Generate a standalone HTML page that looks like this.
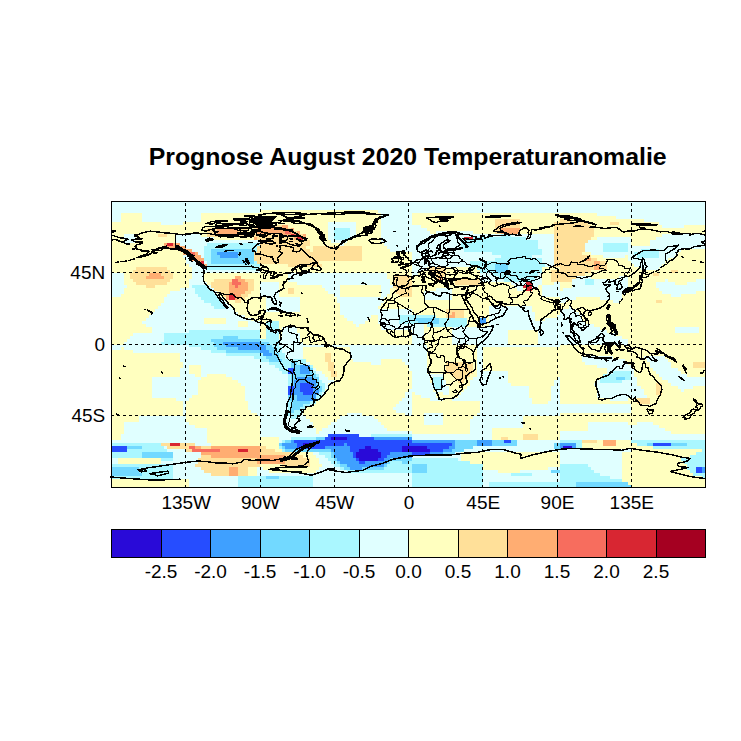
<!DOCTYPE html>
<html lang="de"><head><meta charset="utf-8"><title>Prognose August 2020 Temperaturanomalie</title>
<style>html,body{margin:0;padding:0;background:#fff}svg{display:block}text{font-family:"Liberation Sans",sans-serif;fill:#000}</style></head><body>
<svg width="741" height="741" viewBox="0 0 741 741">
<rect width="741" height="741" fill="#fff"/>
<text x="407.7" y="165" text-anchor="middle" font-weight="bold" font-size="24.75" textLength="518" lengthAdjust="spacingAndGlyphs">Prognose August 2020 Temperaturanomalie</text>
<g shape-rendering="crispEdges">
<rect x="111.5" y="201.5" width="594.0" height="286.0" fill="#FFFFBF"/>
<path fill="#290AD8" d="M331.16 436.85H346.62V439.83H331.16zM303.31 442.81H312.59V445.79H303.31zM365.19 445.79H371.38V448.77H365.19zM402.31 445.79H427.06V448.77H402.31zM563.19 445.79H572.47V448.77H563.19zM359 448.77H377.56V451.75H359zM402.31 448.77H430.16V451.75H402.31zM355.91 451.75H380.66V454.73H355.91zM355.91 454.73H380.66V457.71H355.91zM359 457.71H377.56V460.69H359z"/>
<path fill="#264DFF" d="M287.84 368.33H294.03V371.31H287.84zM287.84 371.31H294.03V374.29H287.84zM300.22 383.23H312.59V386.21H300.22zM287.84 386.21H294.03V389.19H287.84zM300.22 386.21H312.59V389.19H300.22zM287.84 389.19H294.03V392.17H287.84zM300.22 389.19H312.59V392.17H300.22zM287.84 392.17H294.03V395.15H287.84zM303.31 392.17H312.59V395.15H303.31zM328.06 433.88H359V436.85H328.06zM324.97 436.85H331.16V439.83H324.97zM346.62 436.85H374.47V439.83H346.62zM294.03 439.83H411.59V442.81H294.03zM504.41 439.83H510.59V442.81H504.41zM297.12 442.81H303.31V445.79H297.12zM312.59 442.81H343.53V445.79H312.59zM346.62 442.81H451.81V445.79H346.62zM652.91 442.81H671.47V445.79H652.91zM111.5 445.79H126.97V448.77H111.5zM297.12 445.79H324.97V448.77H297.12zM349.72 445.79H365.19V448.77H349.72zM371.38 445.79H402.31V448.77H371.38zM427.06 445.79H448.72V448.77H427.06zM111.5 448.77H126.97V451.75H111.5zM349.72 448.77H359V451.75H349.72zM377.56 448.77H402.31V451.75H377.56zM430.16 448.77H442.53V451.75H430.16zM352.81 451.75H355.91V454.73H352.81zM380.66 451.75H389.94V454.73H380.66zM411.59 451.75H430.16V454.73H411.59zM352.81 454.73H355.91V457.71H352.81zM380.66 454.73H386.84V457.71H380.66zM355.91 457.71H359V460.69H355.91zM377.56 457.71H383.75V460.69H377.56zM359 460.69H365.19V463.67H359zM696.22 466.65H702.41V469.62H696.22zM696.22 469.62H702.41V472.6H696.22z"/>
<path fill="#3FA0FF" d="M216.69 252.15H238.34V255.12H216.69zM219.78 255.12H238.34V258.1H219.78zM479.66 317.69H485.84V320.67H479.66zM479.66 320.67H485.84V323.65H479.66zM222.88 341.52H260V344.5H222.88zM225.97 344.5H266.19V347.48H225.97zM238.34 347.48H266.19V350.46H238.34zM260 350.46H269.28V353.44H260zM263.09 353.44H272.38V356.42H263.09zM300.22 365.35H309.5V368.33H300.22zM300.22 368.33H309.5V371.31H300.22zM300.22 371.31H309.5V374.29H300.22zM297.12 377.27H312.59V380.25H297.12zM294.03 380.25H315.69V383.23H294.03zM294.03 383.23H300.22V386.21H294.03zM312.59 383.23H315.69V386.21H312.59zM294.03 386.21H300.22V389.19H294.03zM312.59 386.21H315.69V389.19H312.59zM294.03 389.19H300.22V392.17H294.03zM312.59 389.19H318.78V392.17H312.59zM294.03 392.17H303.31V395.15H294.03zM312.59 392.17H318.78V395.15H312.59zM297.12 395.15H315.69V398.12H297.12zM297.12 398.12H315.69V401.1H297.12zM374.47 436.85H411.59V439.83H374.47zM290.94 439.83H294.03V442.81H290.94zM411.59 439.83H454.91V442.81H411.59zM476.56 439.83H492.03V442.81H476.56zM281.66 442.81H297.12V445.79H281.66zM343.53 442.81H346.62V445.79H343.53zM451.81 442.81H454.91V445.79H451.81zM476.56 442.81H492.03V445.79H476.56zM560.09 442.81H575.56V445.79H560.09zM284.75 445.79H297.12V448.77H284.75zM324.97 445.79H349.72V448.77H324.97zM448.72 445.79H454.91V448.77H448.72zM560.09 445.79H563.19V448.77H560.09zM572.47 445.79H575.56V448.77H572.47zM331.16 448.77H349.72V451.75H331.16zM442.53 448.77H451.81V451.75H442.53zM334.25 451.75H352.81V454.73H334.25zM389.94 451.75H411.59V454.73H389.94zM430.16 451.75H442.53V454.73H430.16zM334.25 454.73H352.81V457.71H334.25zM386.84 454.73H411.59V457.71H386.84zM337.34 457.71H355.91V460.69H337.34zM383.75 457.71H389.94V460.69H383.75zM340.44 460.69H359V463.67H340.44zM365.19 460.69H386.84V463.67H365.19zM346.62 463.67H383.75V466.65H346.62zM349.72 466.65H362.09V469.62H349.72zM702.41 466.65H705.5V469.62H702.41zM702.41 469.62H705.5V472.6H702.41z"/>
<path fill="#72D9FF" d="M210.5 249.17H253.81V252.15H210.5zM210.5 252.15H216.69V255.12H210.5zM238.34 252.15H253.81V255.12H238.34zM210.5 255.12H219.78V258.1H210.5zM238.34 255.12H253.81V258.1H238.34zM210.5 258.1H253.81V261.08H210.5zM210.5 261.08H253.81V264.06H210.5zM495.12 264.06H507.5V267.04H495.12zM495.12 267.04H507.5V270.02H495.12zM495.12 270.02H507.5V273H495.12zM414.69 317.69H439.44V320.67H414.69zM417.78 320.67H439.44V323.65H417.78zM222.88 335.56H238.34V338.54H222.88zM210.5 338.54H260V341.52H210.5zM213.59 341.52H222.88V344.5H213.59zM260 341.52H269.28V344.5H260zM213.59 344.5H225.97V347.48H213.59zM266.19 344.5H272.38V347.48H266.19zM216.69 347.48H238.34V350.46H216.69zM266.19 347.48H275.47V350.46H266.19zM225.97 350.46H260V353.44H225.97zM269.28 350.46H275.47V353.44H269.28zM272.38 353.44H278.56V356.42H272.38zM266.19 356.42H278.56V359.4H266.19zM269.28 359.4H281.66V362.38H269.28zM290.94 362.38H297.12V365.35H290.94zM290.94 365.35H300.22V368.33H290.94zM294.03 368.33H300.22V371.31H294.03zM309.5 368.33H312.59V371.31H309.5zM294.03 371.31H300.22V374.29H294.03zM309.5 371.31H312.59V374.29H309.5zM290.94 374.29H315.69V377.27H290.94zM290.94 377.27H297.12V380.25H290.94zM312.59 377.27H318.78V380.25H312.59zM615.78 377.27H625.06V380.25H615.78zM290.94 380.25H294.03V383.23H290.94zM315.69 380.25H318.78V383.23H315.69zM290.94 383.23H294.03V386.21H290.94zM315.69 383.23H318.78V386.21H315.69zM315.69 386.21H321.88V389.19H315.69zM318.78 389.19H321.88V392.17H318.78zM287.84 395.15H297.12V398.12H287.84zM287.84 398.12H297.12V401.1H287.84zM290.94 401.1H309.5V404.08H290.94zM290.94 404.08H303.31V407.06H290.94zM290.94 407.06H300.22V410.04H290.94zM290.94 410.04H294.03V413.02H290.94zM315.69 436.85H324.97V439.83H315.69zM284.75 439.83H290.94V442.81H284.75zM454.91 439.83H476.56V442.81H454.91zM492.03 439.83H504.41V442.81H492.03zM510.59 439.83H516.78V442.81H510.59zM278.56 442.81H281.66V445.79H278.56zM454.91 442.81H476.56V445.79H454.91zM492.03 442.81H516.78V445.79H492.03zM553.91 442.81H560.09V445.79H553.91zM646.72 442.81H652.91V445.79H646.72zM671.47 442.81H686.94V445.79H671.47zM126.97 445.79H142.44V448.77H126.97zM281.66 445.79H284.75V448.77H281.66zM454.91 445.79H473.47V448.77H454.91zM553.91 445.79H560.09V448.77H553.91zM284.75 448.77H331.16V451.75H284.75zM451.81 448.77H464.19V451.75H451.81zM142.44 451.75H173.38V454.73H142.44zM331.16 451.75H334.25V454.73H331.16zM442.53 451.75H454.91V454.73H442.53zM142.44 454.73H173.38V457.71H142.44zM331.16 454.73H334.25V457.71H331.16zM334.25 457.71H337.34V460.69H334.25zM389.94 457.71H411.59V460.69H389.94zM337.34 460.69H340.44V463.67H337.34zM386.84 460.69H389.94V463.67H386.84zM402.31 460.69H408.5V463.67H402.31zM340.44 463.67H346.62V466.65H340.44zM383.75 463.67H386.84V466.65H383.75zM411.59 463.67H427.06V466.65H411.59zM111.5 466.65H139.34V469.62H111.5zM343.53 466.65H349.72V469.62H343.53zM362.09 466.65H383.75V469.62H362.09zM411.59 466.65H427.06V469.62H411.59zM111.5 469.62H139.34V472.6H111.5zM411.59 469.62H427.06V472.6H411.59zM550.81 469.62H560.09V472.6H550.81zM111.5 472.6H142.44V475.58H111.5zM266.19 475.58H278.56V478.56H266.19zM575.56 481.54H628.16V484.52H575.56zM575.56 484.52H631.25V487.5H575.56z"/>
<path fill="#AAF7FF" d="M334.25 228.31H349.72V231.29H334.25zM334.25 231.29H349.72V234.27H334.25zM334.25 234.27H349.72V237.25H334.25zM501.31 234.27H510.59V237.25H501.31zM334.25 237.25H349.72V240.23H334.25zM473.47 237.25H526.06V240.23H473.47zM461.09 240.23H538.44V243.21H461.09zM207.41 243.21H260V246.19H207.41zM461.09 243.21H538.44V246.19H461.09zM603.41 243.21H628.16V246.19H603.41zM204.31 246.19H256.91V249.17H204.31zM461.09 246.19H538.44V249.17H461.09zM603.41 246.19H628.16V249.17H603.41zM204.31 249.17H210.5V252.15H204.31zM253.81 249.17H256.91V252.15H253.81zM464.19 249.17H541.53V252.15H464.19zM603.41 249.17H628.16V252.15H603.41zM640.53 249.17H659.09V252.15H640.53zM204.31 252.15H210.5V255.12H204.31zM492.03 252.15H541.53V255.12H492.03zM634.34 252.15H659.09V255.12H634.34zM204.31 255.12H210.5V258.1H204.31zM501.31 255.12H532.25V258.1H501.31zM637.44 255.12H659.09V258.1H637.44zM204.31 258.1H210.5V261.08H204.31zM495.12 258.1H541.53V261.08H495.12zM207.41 261.08H210.5V264.06H207.41zM253.81 261.08H256.91V264.06H253.81zM470.38 261.08H541.53V264.06H470.38zM207.41 264.06H260V267.04H207.41zM470.38 264.06H495.12V267.04H470.38zM507.5 264.06H544.62V267.04H507.5zM207.41 267.04H260V270.02H207.41zM476.56 267.04H495.12V270.02H476.56zM507.5 267.04H541.53V270.02H507.5zM479.66 270.02H495.12V273H479.66zM507.5 270.02H541.53V273H507.5zM492.03 273H538.44V275.98H492.03zM498.22 275.98H535.34V278.96H498.22zM504.41 278.96H535.34V281.94H504.41zM584.84 278.96H594.12V281.94H584.84zM584.84 281.94H594.12V284.92H584.84zM191.94 284.92H207.41V287.9H191.94zM195.03 287.9H210.5V290.88H195.03zM195.03 290.88H213.59V293.85H195.03zM198.12 293.85H216.69V296.83H198.12zM201.22 296.83H219.78V299.81H201.22zM204.31 299.81H222.88V302.79H204.31zM210.5 302.79H225.97V305.77H210.5zM213.59 305.77H225.97V308.75H213.59zM399.22 314.71H436.34V317.69H399.22zM399.22 317.69H414.69V320.67H399.22zM439.44 317.69H467.28V320.67H439.44zM266.19 320.67H278.56V323.65H266.19zM399.22 320.67H417.78V323.65H399.22zM439.44 320.67H467.28V323.65H439.44zM266.19 323.65H278.56V326.62H266.19zM427.06 323.65H467.28V326.62H427.06zM266.19 326.62H278.56V329.6H266.19zM188.84 329.6H260V332.58H188.84zM266.19 329.6H278.56V332.58H266.19zM164.09 332.58H260V335.56H164.09zM266.19 332.58H278.56V335.56H266.19zM164.09 335.56H222.88V338.54H164.09zM238.34 335.56H260V338.54H238.34zM266.19 335.56H278.56V338.54H266.19zM164.09 338.54H210.5V341.52H164.09zM260 338.54H278.56V341.52H260zM161 341.52H213.59V344.5H161zM269.28 341.52H278.56V344.5H269.28zM188.84 344.5H213.59V347.48H188.84zM272.38 344.5H278.56V347.48H272.38zM201.22 347.48H216.69V350.46H201.22zM275.47 347.48H281.66V350.46H275.47zM210.5 350.46H225.97V353.44H210.5zM275.47 350.46H281.66V353.44H275.47zM225.97 353.44H263.09V356.42H225.97zM278.56 353.44H284.75V356.42H278.56zM253.81 356.42H266.19V359.4H253.81zM278.56 356.42H284.75V359.4H278.56zM260 359.4H269.28V362.38H260zM281.66 359.4H306.41V362.38H281.66zM269.28 362.38H290.94V365.35H269.28zM297.12 362.38H306.41V365.35H297.12zM275.47 365.35H290.94V368.33H275.47zM309.5 365.35H312.59V368.33H309.5zM278.56 368.33H287.84V371.31H278.56zM281.66 371.31H287.84V374.29H281.66zM312.59 371.31H315.69V374.29H312.59zM612.69 371.31H631.25V374.29H612.69zM287.84 374.29H290.94V377.27H287.84zM315.69 374.29H318.78V377.27H315.69zM603.41 374.29H631.25V377.27H603.41zM287.84 377.27H290.94V380.25H287.84zM433.25 377.27H442.53V380.25H433.25zM600.31 377.27H615.78V380.25H600.31zM625.06 377.27H631.25V380.25H625.06zM287.84 380.25H290.94V383.23H287.84zM318.78 380.25H321.88V383.23H318.78zM433.25 380.25H442.53V383.23H433.25zM600.31 380.25H621.97V383.23H600.31zM287.84 383.23H290.94V386.21H287.84zM318.78 383.23H324.97V386.21H318.78zM433.25 383.23H442.53V386.21H433.25zM321.88 386.21H324.97V389.19H321.88zM433.25 386.21H442.53V389.19H433.25zM321.88 389.19H324.97V392.17H321.88zM318.78 392.17H321.88V395.15H318.78zM315.69 395.15H321.88V398.12H315.69zM315.69 398.12H318.78V401.1H315.69zM287.84 401.1H290.94V404.08H287.84zM309.5 401.1H315.69V404.08H309.5zM287.84 404.08H290.94V407.06H287.84zM303.31 404.08H309.5V407.06H303.31zM287.84 407.06H290.94V410.04H287.84zM300.22 407.06H306.41V410.04H300.22zM287.84 410.04H290.94V413.02H287.84zM294.03 410.04H303.31V413.02H294.03zM287.84 413.02H300.22V416H287.84zM290.94 416H297.12V418.98H290.94zM371.38 433.88H411.59V436.85H371.38zM290.94 436.85H315.69V439.83H290.94zM281.66 439.83H284.75V442.81H281.66zM560.09 439.83H581.75V442.81H560.09zM631.25 439.83H705.5V442.81H631.25zM111.5 442.81H161V445.79H111.5zM575.56 442.81H581.75V445.79H575.56zM637.44 442.81H646.72V445.79H637.44zM686.94 442.81H705.5V445.79H686.94zM142.44 445.79H164.09V448.77H142.44zM278.56 445.79H281.66V448.77H278.56zM575.56 445.79H581.75V448.77H575.56zM652.91 445.79H705.5V448.77H652.91zM126.97 448.77H167.19V451.75H126.97zM281.66 448.77H284.75V451.75H281.66zM702.41 448.77H705.5V451.75H702.41zM111.5 451.75H142.44V454.73H111.5zM318.78 451.75H331.16V454.73H318.78zM696.22 451.75H705.5V454.73H696.22zM111.5 454.73H142.44V457.71H111.5zM324.97 454.73H331.16V457.71H324.97zM690.03 454.73H705.5V457.71H690.03zM161 457.71H173.38V460.69H161zM328.06 457.71H334.25V460.69H328.06zM411.59 457.71H458V460.69H411.59zM680.75 457.71H705.5V460.69H680.75zM331.16 460.69H337.34V463.67H331.16zM389.94 460.69H402.31V463.67H389.94zM408.5 460.69H470.38V463.67H408.5zM683.84 460.69H705.5V463.67H683.84zM111.5 463.67H173.38V466.65H111.5zM334.25 463.67H340.44V466.65H334.25zM386.84 463.67H411.59V466.65H386.84zM427.06 463.67H482.75V466.65H427.06zM560.09 463.67H587.94V466.65H560.09zM686.94 463.67H705.5V466.65H686.94zM139.34 466.65H173.38V469.62H139.34zM340.44 466.65H343.53V469.62H340.44zM383.75 466.65H411.59V469.62H383.75zM427.06 466.65H482.75V469.62H427.06zM560.09 466.65H591.03V469.62H560.09zM686.94 466.65H696.22V469.62H686.94zM139.34 469.62H173.38V472.6H139.34zM346.62 469.62H411.59V472.6H346.62zM427.06 469.62H482.75V472.6H427.06zM560.09 469.62H594.12V472.6H560.09zM690.03 469.62H696.22V472.6H690.03zM142.44 472.6H173.38V475.58H142.44zM411.59 472.6H482.75V475.58H411.59zM510.59 472.6H532.25V475.58H510.59zM560.09 472.6H600.31V475.58H560.09zM693.12 472.6H705.5V475.58H693.12zM111.5 475.58H173.38V478.56H111.5zM238.34 475.58H266.19V478.56H238.34zM278.56 475.58H312.59V478.56H278.56zM411.59 475.58H482.75V478.56H411.59zM560.09 475.58H609.59V478.56H560.09zM702.41 475.58H705.5V478.56H702.41zM238.34 478.56H312.59V481.54H238.34zM411.59 478.56H482.75V481.54H411.59zM560.09 478.56H621.97V481.54H560.09zM238.34 481.54H312.59V484.52H238.34zM411.59 481.54H482.75V484.52H411.59zM488.94 481.54H575.56V484.52H488.94zM238.34 484.52H312.59V487.5H238.34zM411.59 484.52H482.75V487.5H411.59zM488.94 484.52H575.56V487.5H488.94z"/>
<path fill="#E0FFFF" d="M111.5 201.5H705.5V204.48H111.5zM111.5 204.48H705.5V207.46H111.5zM111.5 207.46H705.5V210.44H111.5zM111.5 210.44H260V213.42H111.5zM377.56 210.44H705.5V213.42H377.56zM111.5 213.42H120.78V216.4H111.5zM142.44 213.42H201.22V216.4H142.44zM380.66 213.42H411.59V216.4H380.66zM597.22 213.42H705.5V216.4H597.22zM111.5 216.4H120.78V219.38H111.5zM142.44 216.4H201.22V219.38H142.44zM380.66 216.4H411.59V219.38H380.66zM615.78 216.4H705.5V219.38H615.78zM111.5 219.38H120.78V222.35H111.5zM142.44 219.38H201.22V222.35H142.44zM380.66 219.38H411.59V222.35H380.66zM643.62 219.38H705.5V222.35H643.62zM161 222.35H182.66V225.33H161zM328.06 222.35H355.91V225.33H328.06zM380.66 222.35H411.59V225.33H380.66zM659.09 222.35H705.5V225.33H659.09zM328.06 225.33H355.91V228.31H328.06zM380.66 225.33H420.88V228.31H380.66zM662.19 225.33H683.84V228.31H662.19zM328.06 228.31H334.25V231.29H328.06zM349.72 228.31H355.91V231.29H349.72zM380.66 228.31H427.06V231.29H380.66zM328.06 231.29H334.25V234.27H328.06zM349.72 231.29H355.91V234.27H349.72zM380.66 231.29H430.16V234.27H380.66zM436.34 231.29H473.47V234.27H436.34zM123.88 234.27H136.25V237.25H123.88zM176.47 234.27H201.22V237.25H176.47zM328.06 234.27H334.25V237.25H328.06zM349.72 234.27H355.91V237.25H349.72zM380.66 234.27H501.31V237.25H380.66zM510.59 234.27H553.91V237.25H510.59zM662.19 234.27H705.5V237.25H662.19zM123.88 237.25H136.25V240.23H123.88zM176.47 237.25H213.59V240.23H176.47zM328.06 237.25H334.25V240.23H328.06zM380.66 237.25H464.19V240.23H380.66zM526.06 237.25H553.91V240.23H526.06zM597.22 237.25H631.25V240.23H597.22zM656 237.25H705.5V240.23H656zM123.88 240.23H136.25V243.21H123.88zM176.47 240.23H260V243.21H176.47zM331.16 240.23H346.62V243.21H331.16zM380.66 240.23H461.09V243.21H380.66zM538.44 240.23H553.91V243.21H538.44zM587.94 240.23H631.25V243.21H587.94zM649.81 240.23H705.5V243.21H649.81zM179.56 243.21H207.41V246.19H179.56zM340.44 243.21H343.53V246.19H340.44zM383.75 243.21H461.09V246.19H383.75zM538.44 243.21H553.91V246.19H538.44zM584.84 243.21H603.41V246.19H584.84zM628.16 243.21H631.25V246.19H628.16zM649.81 243.21H705.5V246.19H649.81zM185.75 246.19H204.31V249.17H185.75zM386.84 246.19H461.09V249.17H386.84zM538.44 246.19H553.91V249.17H538.44zM584.84 246.19H603.41V249.17H584.84zM628.16 246.19H705.5V249.17H628.16zM191.94 249.17H204.31V252.15H191.94zM389.94 249.17H464.19V252.15H389.94zM541.53 249.17H553.91V252.15H541.53zM584.84 249.17H603.41V252.15H584.84zM628.16 249.17H640.53V252.15H628.16zM659.09 249.17H680.75V252.15H659.09zM198.12 252.15H204.31V255.12H198.12zM411.59 252.15H492.03V255.12H411.59zM541.53 252.15H553.91V255.12H541.53zM591.03 252.15H634.34V255.12H591.03zM659.09 252.15H677.66V255.12H659.09zM182.66 255.12H188.84V258.1H182.66zM201.22 255.12H204.31V258.1H201.22zM411.59 255.12H501.31V258.1H411.59zM532.25 255.12H553.91V258.1H532.25zM603.41 255.12H625.06V258.1H603.41zM628.16 255.12H637.44V258.1H628.16zM659.09 255.12H674.56V258.1H659.09zM185.75 258.1H191.94V261.08H185.75zM411.59 258.1H495.12V261.08H411.59zM541.53 258.1H553.91V261.08H541.53zM628.16 258.1H668.38V261.08H628.16zM185.75 261.08H198.12V264.06H185.75zM204.31 261.08H207.41V264.06H204.31zM411.59 261.08H470.38V264.06H411.59zM541.53 261.08H553.91V264.06H541.53zM631.25 261.08H665.28V264.06H631.25zM188.84 264.06H201.22V267.04H188.84zM411.59 264.06H470.38V267.04H411.59zM544.62 264.06H553.91V267.04H544.62zM634.34 264.06H662.19V267.04H634.34zM191.94 267.04H207.41V270.02H191.94zM411.59 267.04H427.06V270.02H411.59zM640.53 267.04H659.09V270.02H640.53zM191.94 270.02H260V273H191.94zM411.59 270.02H420.88V273H411.59zM111.5 273H123.88V275.98H111.5zM191.94 273H204.31V275.98H191.94zM287.84 273H386.84V275.98H287.84zM411.59 273H417.78V275.98H411.59zM479.66 273H492.03V275.98H479.66zM538.44 273H541.53V275.98H538.44zM111.5 275.98H123.88V278.96H111.5zM191.94 275.98H204.31V278.96H191.94zM287.84 275.98H386.84V278.96H287.84zM479.66 275.98H498.22V278.96H479.66zM535.34 275.98H541.53V278.96H535.34zM575.56 275.98H591.03V278.96H575.56zM618.88 275.98H628.16V278.96H618.88zM111.5 278.96H123.88V281.94H111.5zM188.84 278.96H204.31V281.94H188.84zM287.84 278.96H389.94V281.94H287.84zM479.66 278.96H504.41V281.94H479.66zM535.34 278.96H541.53V281.94H535.34zM572.47 278.96H584.84V281.94H572.47zM594.12 278.96H628.16V281.94H594.12zM665.28 278.96H668.38V281.94H665.28zM696.22 278.96H705.5V281.94H696.22zM111.5 281.94H123.88V284.92H111.5zM188.84 281.94H207.41V284.92H188.84zM260 281.94H278.56V284.92H260zM297.12 281.94H389.94V284.92H297.12zM510.59 281.94H526.06V284.92H510.59zM532.25 281.94H541.53V284.92H532.25zM553.91 281.94H560.09V284.92H553.91zM572.47 281.94H584.84V284.92H572.47zM594.12 281.94H628.16V284.92H594.12zM656 281.94H674.56V284.92H656zM686.94 281.94H705.5V284.92H686.94zM111.5 284.92H126.97V287.9H111.5zM188.84 284.92H191.94V287.9H188.84zM207.41 284.92H210.5V287.9H207.41zM260 284.92H278.56V287.9H260zM321.88 284.92H340.44V287.9H321.88zM380.66 284.92H393.03V287.9H380.66zM513.69 284.92H522.97V287.9H513.69zM532.25 284.92H538.44V287.9H532.25zM541.53 284.92H560.09V287.9H541.53zM572.47 284.92H628.16V287.9H572.47zM656 284.92H705.5V287.9H656zM111.5 287.9H123.88V290.88H111.5zM179.56 287.9H195.03V290.88H179.56zM210.5 287.9H213.59V290.88H210.5zM260 287.9H278.56V290.88H260zM324.97 287.9H340.44V290.88H324.97zM380.66 287.9H389.94V290.88H380.66zM436.34 287.9H451.81V290.88H436.34zM516.78 287.9H522.97V290.88H516.78zM541.53 287.9H560.09V290.88H541.53zM563.19 287.9H625.06V290.88H563.19zM659.09 287.9H705.5V290.88H659.09zM111.5 290.88H123.88V293.85H111.5zM170.28 290.88H195.03V293.85H170.28zM213.59 290.88H216.69V293.85H213.59zM260 290.88H278.56V293.85H260zM328.06 290.88H340.44V293.85H328.06zM380.66 290.88H389.94V293.85H380.66zM423.97 290.88H451.81V293.85H423.97zM541.53 290.88H625.06V293.85H541.53zM662.19 290.88H696.22V293.85H662.19zM111.5 293.85H120.78V296.83H111.5zM167.19 293.85H198.12V296.83H167.19zM216.69 293.85H219.78V296.83H216.69zM260 293.85H278.56V296.83H260zM334.25 293.85H340.44V296.83H334.25zM380.66 293.85H386.84V296.83H380.66zM423.97 293.85H451.81V296.83H423.97zM541.53 293.85H621.97V296.83H541.53zM671.47 293.85H680.75V296.83H671.47zM164.09 296.83H201.22V299.81H164.09zM219.78 296.83H222.88V299.81H219.78zM266.19 296.83H300.22V299.81H266.19zM337.34 296.83H383.75V299.81H337.34zM423.97 296.83H451.81V299.81H423.97zM560.09 296.83H575.56V299.81H560.09zM600.31 296.83H621.97V299.81H600.31zM164.09 299.81H204.31V302.79H164.09zM222.88 299.81H225.97V302.79H222.88zM266.19 299.81H300.22V302.79H266.19zM337.34 299.81H383.75V302.79H337.34zM560.09 299.81H566.28V302.79H560.09zM612.69 299.81H618.88V302.79H612.69zM161 302.79H210.5V305.77H161zM225.97 302.79H229.06V305.77H225.97zM266.19 302.79H300.22V305.77H266.19zM340.44 302.79H380.66V305.77H340.44zM157.91 305.77H213.59V308.75H157.91zM225.97 305.77H232.16V308.75H225.97zM266.19 305.77H300.22V308.75H266.19zM340.44 305.77H377.56V308.75H340.44zM488.94 305.77H532.25V308.75H488.94zM569.38 305.77H572.47V308.75H569.38zM154.81 308.75H235.25V311.73H154.81zM266.19 308.75H300.22V311.73H266.19zM340.44 308.75H411.59V311.73H340.44zM488.94 308.75H532.25V311.73H488.94zM560.09 308.75H575.56V311.73H560.09zM151.72 311.73H238.34V314.71H151.72zM340.44 311.73H411.59V314.71H340.44zM488.94 311.73H535.34V314.71H488.94zM560.09 311.73H578.66V314.71H560.09zM148.62 314.71H244.53V317.69H148.62zM343.53 314.71H371.38V317.69H343.53zM377.56 314.71H399.22V317.69H377.56zM488.94 314.71H535.34V317.69H488.94zM557 314.71H581.75V317.69H557zM145.53 317.69H204.31V320.67H145.53zM225.97 317.69H250.72V320.67H225.97zM346.62 317.69H368.28V320.67H346.62zM377.56 317.69H399.22V320.67H377.56zM488.94 317.69H535.34V320.67H488.94zM544.62 317.69H581.75V320.67H544.62zM142.44 320.67H204.31V323.65H142.44zM225.97 320.67H238.34V323.65H225.97zM247.62 320.67H260V323.65H247.62zM352.81 320.67H365.19V323.65H352.81zM377.56 320.67H399.22V323.65H377.56zM488.94 320.67H584.84V323.65H488.94zM145.53 323.65H238.34V326.62H145.53zM247.62 323.65H260V326.62H247.62zM355.91 323.65H359V326.62H355.91zM380.66 323.65H423.97V326.62H380.66zM488.94 323.65H594.12V326.62H488.94zM151.72 326.62H260V329.6H151.72zM281.66 326.62H297.12V329.6H281.66zM380.66 326.62H423.97V329.6H380.66zM451.81 326.62H600.31V329.6H451.81zM674.56 326.62H699.31V329.6H674.56zM151.72 329.6H188.84V332.58H151.72zM281.66 329.6H297.12V332.58H281.66zM411.59 329.6H423.97V332.58H411.59zM451.81 329.6H507.5V332.58H451.81zM538.44 329.6H606.5V332.58H538.44zM674.56 329.6H699.31V332.58H674.56zM133.16 332.58H164.09V335.56H133.16zM281.66 332.58H300.22V335.56H281.66zM411.59 332.58H423.97V335.56H411.59zM451.81 332.58H507.5V335.56H451.81zM538.44 332.58H615.78V335.56H538.44zM130.06 335.56H164.09V338.54H130.06zM281.66 335.56H300.22V338.54H281.66zM411.59 335.56H423.97V338.54H411.59zM451.81 335.56H507.5V338.54H451.81zM538.44 335.56H621.97V338.54H538.44zM126.97 338.54H164.09V341.52H126.97zM278.56 338.54H300.22V341.52H278.56zM411.59 338.54H423.97V341.52H411.59zM451.81 338.54H507.5V341.52H451.81zM538.44 338.54H628.16V341.52H538.44zM123.88 341.52H161V344.5H123.88zM278.56 341.52H303.31V344.5H278.56zM411.59 341.52H423.97V344.5H411.59zM451.81 341.52H507.5V344.5H451.81zM538.44 341.52H628.16V344.5H538.44zM111.5 344.5H188.84V347.48H111.5zM278.56 344.5H427.06V347.48H278.56zM476.56 344.5H560.09V347.48H476.56zM111.5 347.48H120.78V350.46H111.5zM123.88 347.48H201.22V350.46H123.88zM281.66 347.48H303.31V350.46H281.66zM349.72 347.48H427.06V350.46H349.72zM476.56 347.48H482.75V350.46H476.56zM133.16 350.46H210.5V353.44H133.16zM281.66 350.46H303.31V353.44H281.66zM349.72 350.46H427.06V353.44H349.72zM476.56 350.46H482.75V353.44H476.56zM179.56 353.44H225.97V356.42H179.56zM284.75 353.44H303.31V356.42H284.75zM349.72 353.44H427.06V356.42H349.72zM476.56 353.44H482.75V356.42H476.56zM179.56 356.42H253.81V359.4H179.56zM284.75 356.42H303.31V359.4H284.75zM349.72 356.42H427.06V359.4H349.72zM476.56 356.42H482.75V359.4H476.56zM581.75 356.42H612.69V359.4H581.75zM643.62 356.42H665.28V359.4H643.62zM179.56 359.4H260V362.38H179.56zM352.81 359.4H380.66V362.38H352.81zM402.31 359.4H427.06V362.38H402.31zM476.56 359.4H482.75V362.38H476.56zM581.75 359.4H625.06V362.38H581.75zM646.72 359.4H668.38V362.38H646.72zM182.66 362.38H269.28V365.35H182.66zM306.41 362.38H309.5V365.35H306.41zM371.38 362.38H380.66V365.35H371.38zM405.41 362.38H427.06V365.35H405.41zM476.56 362.38H482.75V365.35H476.56zM584.84 362.38H628.16V365.35H584.84zM649.81 362.38H671.47V365.35H649.81zM182.66 365.35H188.84V368.33H182.66zM201.22 365.35H275.47V368.33H201.22zM408.5 365.35H427.06V368.33H408.5zM476.56 365.35H482.75V368.33H476.56zM597.22 365.35H631.25V368.33H597.22zM649.81 365.35H671.47V368.33H649.81zM179.56 368.33H188.84V371.31H179.56zM201.22 368.33H278.56V371.31H201.22zM312.59 368.33H315.69V371.31H312.59zM408.5 368.33H427.06V371.31H408.5zM476.56 368.33H482.75V371.31H476.56zM606.5 368.33H634.34V371.31H606.5zM652.91 368.33H677.66V371.31H652.91zM179.56 371.31H188.84V374.29H179.56zM201.22 371.31H281.66V374.29H201.22zM315.69 371.31H321.88V374.29H315.69zM411.59 371.31H427.06V374.29H411.59zM476.56 371.31H507.5V374.29H476.56zM606.5 371.31H612.69V374.29H606.5zM631.25 371.31H634.34V374.29H631.25zM656 371.31H680.75V374.29H656zM179.56 374.29H195.03V377.27H179.56zM201.22 374.29H207.41V377.27H201.22zM225.97 374.29H287.84V377.27H225.97zM318.78 374.29H324.97V377.27H318.78zM411.59 374.29H442.53V377.27H411.59zM476.56 374.29H507.5V377.27H476.56zM631.25 374.29H634.34V377.27H631.25zM659.09 374.29H686.94V377.27H659.09zM151.72 377.27H201.22V380.25H151.72zM232.16 377.27H287.84V380.25H232.16zM318.78 377.27H328.06V380.25H318.78zM411.59 377.27H430.16V380.25H411.59zM473.47 377.27H507.5V380.25H473.47zM557 377.27H560.09V380.25H557zM631.25 377.27H637.44V380.25H631.25zM662.19 377.27H705.5V380.25H662.19zM151.72 380.25H198.12V383.23H151.72zM238.34 380.25H287.84V383.23H238.34zM321.88 380.25H334.25V383.23H321.88zM411.59 380.25H430.16V383.23H411.59zM442.53 380.25H445.62V383.23H442.53zM470.38 380.25H507.5V383.23H470.38zM553.91 380.25H560.09V383.23H553.91zM597.22 380.25H600.31V383.23H597.22zM621.97 380.25H637.44V383.23H621.97zM668.38 380.25H705.5V383.23H668.38zM151.72 383.23H198.12V386.21H151.72zM241.44 383.23H287.84V386.21H241.44zM324.97 383.23H328.06V386.21H324.97zM411.59 383.23H433.25V386.21H411.59zM442.53 383.23H445.62V386.21H442.53zM470.38 383.23H510.59V386.21H470.38zM553.91 383.23H560.09V386.21H553.91zM594.12 383.23H637.44V386.21H594.12zM671.47 383.23H705.5V386.21H671.47zM151.72 386.21H198.12V389.19H151.72zM244.53 386.21H287.84V389.19H244.53zM324.97 386.21H328.06V389.19H324.97zM411.59 386.21H433.25V389.19H411.59zM442.53 386.21H448.72V389.19H442.53zM467.28 386.21H529.16V389.19H467.28zM550.81 386.21H560.09V389.19H550.81zM597.22 386.21H640.53V389.19H597.22zM677.66 386.21H693.12V389.19H677.66zM151.72 389.19H198.12V392.17H151.72zM244.53 389.19H287.84V392.17H244.53zM408.5 389.19H433.25V392.17H408.5zM436.34 389.19H448.72V392.17H436.34zM464.19 389.19H529.16V392.17H464.19zM550.81 389.19H560.09V392.17H550.81zM597.22 389.19H643.62V392.17H597.22zM680.75 389.19H683.84V392.17H680.75zM151.72 392.17H198.12V395.15H151.72zM244.53 392.17H287.84V395.15H244.53zM321.88 392.17H324.97V395.15H321.88zM405.41 392.17H411.59V395.15H405.41zM414.69 392.17H436.34V395.15H414.69zM442.53 392.17H448.72V395.15H442.53zM461.09 392.17H529.16V395.15H461.09zM550.81 392.17H560.09V395.15H550.81zM597.22 392.17H643.62V395.15H597.22zM151.72 395.15H191.94V398.12H151.72zM244.53 395.15H287.84V398.12H244.53zM405.41 395.15H411.59V398.12H405.41zM420.88 395.15H436.34V398.12H420.88zM458 395.15H529.16V398.12H458zM550.81 395.15H560.09V398.12H550.81zM597.22 395.15H646.72V398.12H597.22zM176.47 398.12H188.84V401.1H176.47zM244.53 398.12H287.84V401.1H244.53zM402.31 398.12H411.59V401.1H402.31zM430.16 398.12H442.53V401.1H430.16zM451.81 398.12H532.25V401.1H451.81zM550.81 398.12H560.09V401.1H550.81zM609.59 398.12H628.16V401.1H609.59zM182.66 401.1H185.75V404.08H182.66zM247.62 401.1H287.84V404.08H247.62zM399.22 401.1H411.59V404.08H399.22zM479.66 401.1H532.25V404.08H479.66zM547.72 401.1H560.09V404.08H547.72zM182.66 404.08H185.75V407.06H182.66zM247.62 404.08H287.84V407.06H247.62zM309.5 404.08H312.59V407.06H309.5zM396.12 404.08H411.59V407.06H396.12zM479.66 404.08H631.25V407.06H479.66zM182.66 407.06H185.75V410.04H182.66zM247.62 407.06H287.84V410.04H247.62zM393.03 407.06H411.59V410.04H393.03zM479.66 407.06H631.25V410.04H479.66zM182.66 410.04H185.75V413.02H182.66zM250.72 410.04H287.84V413.02H250.72zM396.12 410.04H411.59V413.02H396.12zM479.66 410.04H631.25V413.02H479.66zM182.66 413.02H185.75V416H182.66zM256.91 413.02H287.84V416H256.91zM300.22 413.02H303.31V416H300.22zM346.62 413.02H362.09V416H346.62zM405.41 413.02H411.59V416H405.41zM423.97 413.02H442.53V416H423.97zM476.56 413.02H560.09V416H476.56zM139.34 416H185.75V418.98H139.34zM260 416H290.94V418.98H260zM297.12 416H306.41V418.98H297.12zM340.44 416H374.47V418.98H340.44zM423.97 416H442.53V418.98H423.97zM473.47 416H522.97V418.98H473.47zM139.34 418.98H185.75V421.96H139.34zM260 418.98H309.5V421.96H260zM337.34 418.98H377.56V421.96H337.34zM423.97 418.98H442.53V421.96H423.97zM470.38 418.98H522.97V421.96H470.38zM123.88 421.96H188.84V424.94H123.88zM260 421.96H312.59V424.94H260zM331.16 421.96H380.66V424.94H331.16zM423.97 421.96H442.53V424.94H423.97zM470.38 421.96H522.97V424.94H470.38zM587.94 421.96H628.16V424.94H587.94zM637.44 421.96H652.91V424.94H637.44zM123.88 424.94H195.03V427.92H123.88zM260 424.94H312.59V427.92H260zM328.06 424.94H383.75V427.92H328.06zM470.38 424.94H522.97V427.92H470.38zM587.94 424.94H659.09V427.92H587.94zM123.88 427.92H207.41V430.9H123.88zM260 427.92H315.69V430.9H260zM321.88 427.92H386.84V430.9H321.88zM470.38 427.92H492.03V430.9H470.38zM587.94 427.92H665.28V430.9H587.94zM123.88 430.9H207.41V433.88H123.88zM260 430.9H315.69V433.88H260zM318.78 430.9H411.59V433.88H318.78zM470.38 430.9H492.03V433.88H470.38zM560.09 430.9H671.47V433.88H560.09zM120.78 433.88H207.41V436.85H120.78zM260 433.88H328.06V436.85H260zM359 433.88H371.38V436.85H359zM411.59 433.88H492.03V436.85H411.59zM560.09 433.88H705.5V436.85H560.09zM120.78 436.85H207.41V439.83H120.78zM278.56 436.85H290.94V439.83H278.56zM411.59 436.85H492.03V439.83H411.59zM560.09 436.85H705.5V439.83H560.09zM111.5 439.83H207.41V442.81H111.5zM278.56 439.83H281.66V442.81H278.56zM516.78 439.83H560.09V442.81H516.78zM195.03 442.81H210.5V445.79H195.03zM516.78 442.81H553.91V445.79H516.78zM164.09 445.79H167.19V448.77H164.09zM473.47 445.79H553.91V448.77H473.47zM167.19 448.77H185.75V451.75H167.19zM464.19 448.77H631.25V451.75H464.19zM173.38 451.75H201.22V454.73H173.38zM312.59 451.75H318.78V454.73H312.59zM454.91 451.75H461.09V454.73H454.91zM560.09 451.75H621.97V454.73H560.09zM173.38 454.73H201.22V457.71H173.38zM315.69 454.73H324.97V457.71H315.69zM411.59 454.73H461.09V457.71H411.59zM560.09 454.73H621.97V457.71H560.09zM111.5 457.71H117.69V460.69H111.5zM173.38 457.71H198.12V460.69H173.38zM318.78 457.71H328.06V460.69H318.78zM458 457.71H461.09V460.69H458zM560.09 457.71H621.97V460.69H560.09zM111.5 460.69H117.69V463.67H111.5zM161 460.69H198.12V463.67H161zM318.78 460.69H331.16V463.67H318.78zM560.09 460.69H621.97V463.67H560.09zM173.38 463.67H195.03V466.65H173.38zM321.88 463.67H334.25V466.65H321.88zM587.94 463.67H621.97V466.65H587.94zM173.38 466.65H201.22V469.62H173.38zM256.91 466.65H263.09V469.62H256.91zM318.78 466.65H340.44V469.62H318.78zM547.72 466.65H560.09V469.62H547.72zM591.03 466.65H621.97V469.62H591.03zM173.38 469.62H204.31V472.6H173.38zM256.91 469.62H269.28V472.6H256.91zM315.69 469.62H346.62V472.6H315.69zM482.75 469.62H498.22V472.6H482.75zM519.88 469.62H550.81V472.6H519.88zM594.12 469.62H621.97V472.6H594.12zM173.38 472.6H210.5V475.58H173.38zM256.91 472.6H411.59V475.58H256.91zM482.75 472.6H510.59V475.58H482.75zM532.25 472.6H560.09V475.58H532.25zM600.31 472.6H621.97V475.58H600.31zM173.38 475.58H238.34V478.56H173.38zM312.59 475.58H411.59V478.56H312.59zM482.75 475.58H560.09V478.56H482.75zM609.59 475.58H621.97V478.56H609.59zM188.84 478.56H238.34V481.54H188.84zM312.59 478.56H411.59V481.54H312.59zM482.75 478.56H560.09V481.54H482.75zM188.84 481.54H238.34V484.52H188.84zM312.59 481.54H411.59V484.52H312.59zM482.75 481.54H488.94V484.52H482.75zM188.84 484.52H238.34V487.5H188.84zM312.59 484.52H411.59V487.5H312.59zM482.75 484.52H488.94V487.5H482.75z"/>
<path fill="#FFE099" d="M495.12 219.38H519.88V222.35H495.12zM560.09 219.38H572.47V222.35H560.09zM495.12 222.35H519.88V225.33H495.12zM553.91 222.35H587.94V225.33H553.91zM609.59 222.35H618.88V225.33H609.59zM269.28 225.33H281.66V228.31H269.28zM495.12 225.33H519.88V228.31H495.12zM553.91 225.33H591.03V228.31H553.91zM207.41 228.31H216.69V231.29H207.41zM238.34 228.31H247.62V231.29H238.34zM253.81 228.31H256.91V231.29H253.81zM287.84 228.31H290.94V231.29H287.84zM495.12 228.31H501.31V231.29H495.12zM553.91 228.31H594.12V231.29H553.91zM207.41 231.29H216.69V234.27H207.41zM238.34 231.29H247.62V234.27H238.34zM253.81 231.29H256.91V234.27H253.81zM294.03 231.29H297.12V234.27H294.03zM495.12 231.29H501.31V234.27H495.12zM553.91 231.29H594.12V234.27H553.91zM157.91 234.27H167.19V237.25H157.91zM207.41 234.27H247.62V237.25H207.41zM253.81 234.27H281.66V237.25H253.81zM300.22 234.27H303.31V237.25H300.22zM553.91 234.27H594.12V237.25H553.91zM256.91 237.25H294.03V240.23H256.91zM303.31 237.25H306.41V240.23H303.31zM553.91 237.25H591.03V240.23H553.91zM260 240.23H309.5V243.21H260zM553.91 240.23H587.94V243.21H553.91zM260 243.21H309.5V246.19H260zM553.91 243.21H584.84V246.19H553.91zM256.91 246.19H306.41V249.17H256.91zM312.59 246.19H362.09V249.17H312.59zM553.91 246.19H584.84V249.17H553.91zM256.91 249.17H309.5V252.15H256.91zM312.59 249.17H362.09V252.15H312.59zM553.91 249.17H584.84V252.15H553.91zM253.81 252.15H362.09V255.12H253.81zM553.91 252.15H581.75V255.12H553.91zM253.81 255.12H362.09V258.1H253.81zM553.91 255.12H591.03V258.1H553.91zM253.81 258.1H362.09V261.08H253.81zM553.91 258.1H584.84V261.08H553.91zM591.03 258.1H597.22V261.08H591.03zM256.91 261.08H318.78V264.06H256.91zM553.91 261.08H594.12V264.06H553.91zM600.31 261.08H606.5V264.06H600.31zM287.84 264.06H321.88V267.04H287.84zM553.91 264.06H594.12V267.04H553.91zM600.31 264.06H606.5V267.04H600.31zM136.25 267.04H167.19V270.02H136.25zM430.16 267.04H445.62V270.02H430.16zM560.09 267.04H594.12V270.02H560.09zM600.31 267.04H606.5V270.02H600.31zM133.16 270.02H170.28V273H133.16zM430.16 270.02H445.62V273H430.16zM550.81 270.02H591.03V273H550.81zM671.47 270.02H677.66V273H671.47zM130.06 273H148.62V275.98H130.06zM161 273H173.38V275.98H161zM433.25 273H445.62V275.98H433.25zM550.81 273H584.84V275.98H550.81zM652.91 273H659.09V275.98H652.91zM130.06 275.98H145.53V278.96H130.06zM164.09 275.98H173.38V278.96H164.09zM393.03 275.98H411.59V278.96H393.03zM436.34 275.98H439.44V278.96H436.34zM550.81 275.98H575.56V278.96H550.81zM133.16 278.96H170.28V281.94H133.16zM213.59 278.96H232.16V281.94H213.59zM244.53 278.96H253.81V281.94H244.53zM393.03 278.96H411.59V281.94H393.03zM454.91 278.96H479.66V281.94H454.91zM550.81 278.96H572.47V281.94H550.81zM136.25 281.94H167.19V284.92H136.25zM210.5 281.94H229.06V284.92H210.5zM247.62 281.94H253.81V284.92H247.62zM393.03 281.94H411.59V284.92H393.03zM454.91 281.94H479.66V284.92H454.91zM145.53 284.92H154.81V287.9H145.53zM210.5 284.92H229.06V287.9H210.5zM247.62 284.92H253.81V287.9H247.62zM393.03 284.92H411.59V287.9H393.03zM213.59 287.9H229.06V290.88H213.59zM247.62 287.9H253.81V290.88H247.62zM287.84 287.9H294.03V290.88H287.84zM396.12 287.9H411.59V290.88H396.12zM219.78 290.88H229.06V293.85H219.78zM244.53 290.88H250.72V293.85H244.53zM287.84 290.88H294.03V293.85H287.84zM396.12 290.88H411.59V293.85H396.12zM222.88 293.85H225.97V296.83H222.88zM241.44 293.85H247.62V296.83H241.44zM399.22 293.85H411.59V296.83H399.22zM238.34 296.83H244.53V299.81H238.34zM235.25 299.81H241.44V302.79H235.25zM656 299.81H662.19V302.79H656zM445.62 308.75H464.19V311.73H445.62zM445.62 311.73H451.81V314.71H445.62zM454.91 311.73H464.19V314.71H454.91zM445.62 314.71H448.72V317.69H445.62zM454.91 314.71H464.19V317.69H454.91zM324.97 353.44H331.16V356.42H324.97zM324.97 356.42H331.16V359.4H324.97zM324.97 359.4H331.16V362.38H324.97zM328.06 362.38H334.25V365.35H328.06zM445.62 362.38H473.47V365.35H445.62zM693.12 362.38H705.5V365.35H693.12zM328.06 365.35H334.25V368.33H328.06zM445.62 365.35H473.47V368.33H445.62zM693.12 365.35H705.5V368.33H693.12zM328.06 368.33H334.25V371.31H328.06zM445.62 368.33H473.47V371.31H445.62zM331.16 371.31H337.34V374.29H331.16zM445.62 371.31H473.47V374.29H445.62zM331.16 374.29H337.34V377.27H331.16zM451.81 374.29H470.38V377.27H451.81zM454.91 377.27H467.28V380.25H454.91zM458 380.25H464.19V383.23H458zM656 383.23H662.19V386.21H656zM656 386.21H662.19V389.19H656zM656 389.19H662.19V392.17H656zM656 392.17H662.19V395.15H656zM637.44 398.12H649.81V401.1H637.44zM637.44 401.1H649.81V404.08H637.44zM522.97 433.88H538.44V436.85H522.97zM501.31 436.85H507.5V439.83H501.31zM522.97 436.85H538.44V439.83H522.97zM581.75 439.83H597.22V442.81H581.75zM161 442.81H170.28V445.79H161zM179.56 442.81H195.03V445.79H179.56zM167.19 445.79H188.84V448.77H167.19zM201.22 445.79H210.5V448.77H201.22zM260 445.79H266.19V448.77H260zM185.75 448.77H191.94V451.75H185.75zM260 448.77H275.47V451.75H260zM260 451.75H294.03V454.73H260zM201.22 454.73H210.5V457.71H201.22zM284.75 454.73H303.31V457.71H284.75zM198.12 457.71H256.91V460.69H198.12zM284.75 457.71H309.5V460.69H284.75zM198.12 460.69H256.91V463.67H198.12zM284.75 460.69H309.5V463.67H284.75zM195.03 463.67H260V466.65H195.03zM281.66 463.67H309.5V466.65H281.66zM201.22 466.65H229.06V469.62H201.22zM238.34 466.65H247.62V469.62H238.34zM204.31 469.62H229.06V472.6H204.31zM238.34 469.62H247.62V472.6H238.34zM210.5 472.6H229.06V475.58H210.5zM238.34 472.6H247.62V475.58H238.34z"/>
<path fill="#FFAD72" d="M260 225.33H269.28V228.31H260zM281.66 225.33H287.84V228.31H281.66zM216.69 228.31H238.34V231.29H216.69zM256.91 228.31H287.84V231.29H256.91zM290.94 228.31H294.03V231.29H290.94zM501.31 228.31H519.88V231.29H501.31zM216.69 231.29H238.34V234.27H216.69zM256.91 231.29H284.75V234.27H256.91zM290.94 231.29H294.03V234.27H290.94zM297.12 231.29H300.22V234.27H297.12zM501.31 231.29H519.88V234.27H501.31zM281.66 234.27H290.94V237.25H281.66zM297.12 234.27H300.22V237.25H297.12zM303.31 234.27H306.41V237.25H303.31zM253.81 237.25H256.91V240.23H253.81zM294.03 237.25H297.12V240.23H294.03zM164.09 243.21H167.19V246.19H164.09zM173.38 243.21H179.56V246.19H173.38zM167.19 246.19H185.75V249.17H167.19zM179.56 249.17H191.94V252.15H179.56zM182.66 252.15H188.84V255.12H182.66zM195.03 252.15H198.12V255.12H195.03zM188.84 255.12H201.22V258.1H188.84zM191.94 258.1H204.31V261.08H191.94zM584.84 258.1H591.03V261.08H584.84zM198.12 261.08H201.22V264.06H198.12zM594.12 261.08H600.31V264.06H594.12zM204.31 264.06H207.41V267.04H204.31zM594.12 264.06H600.31V267.04H594.12zM594.12 267.04H600.31V270.02H594.12zM148.62 273H161V275.98H148.62zM145.53 275.98H164.09V278.96H145.53zM235.25 275.98H241.44V278.96H235.25zM439.44 275.98H442.53V278.96H439.44zM238.34 278.96H244.53V281.94H238.34zM439.44 278.96H442.53V281.94H439.44zM229.06 281.94H232.16V284.92H229.06zM241.44 281.94H247.62V284.92H241.44zM229.06 284.92H235.25V287.9H229.06zM238.34 284.92H247.62V287.9H238.34zM229.06 287.9H247.62V290.88H229.06zM229.06 290.88H244.53V293.85H229.06zM225.97 293.85H229.06V296.83H225.97zM235.25 293.85H241.44V296.83H235.25zM225.97 296.83H229.06V299.81H225.97zM235.25 296.83H238.34V299.81H235.25zM451.81 311.73H454.91V314.71H451.81zM448.72 314.71H454.91V317.69H448.72zM603.41 439.83H615.78V442.81H603.41zM603.41 442.81H615.78V445.79H603.41zM195.03 445.79H201.22V448.77H195.03zM210.5 445.79H260V448.77H210.5zM219.78 448.77H238.34V451.75H219.78zM247.62 448.77H260V451.75H247.62zM201.22 451.75H260V454.73H201.22zM210.5 454.73H284.75V457.71H210.5zM256.91 457.71H284.75V460.69H256.91zM256.91 460.69H284.75V463.67H256.91zM229.06 466.65H238.34V469.62H229.06zM229.06 469.62H238.34V472.6H229.06zM229.06 472.6H238.34V475.58H229.06z"/>
<path fill="#F76D5E" d="M284.75 231.29H290.94V234.27H284.75zM294.03 234.27H297.12V237.25H294.03zM188.84 252.15H195.03V255.12H188.84zM232.16 278.96H238.34V281.94H232.16zM232.16 281.94H241.44V284.92H232.16zM235.25 284.92H238.34V287.9H235.25zM188.84 445.79H195.03V448.77H188.84zM191.94 448.77H219.78V451.75H191.94z"/>
<path fill="#D82632" d="M290.94 234.27H294.03V237.25H290.94zM297.12 237.25H303.31V240.23H297.12zM464.19 237.25H473.47V240.23H464.19zM167.19 243.21H173.38V246.19H167.19zM201.22 261.08H204.31V264.06H201.22zM201.22 264.06H204.31V267.04H201.22zM526.06 281.94H532.25V284.92H526.06zM522.97 284.92H532.25V287.9H522.97zM526.06 287.9H532.25V290.88H526.06zM229.06 293.85H235.25V296.83H229.06zM229.06 296.83H235.25V299.81H229.06zM170.28 442.81H179.56V445.79H170.28zM238.34 448.77H247.62V451.75H238.34z"/>
</g>
<path d="M185.5 203V487M260.5 203V487M334.5 203V487M408.5 203V487M482.5 203V487M557.5 203V487M631.5 203V487M111 272.5H705M111 344.5H705M111 415.5H705" stroke="#000" stroke-width="1" stroke-dasharray="3 3" fill="none" shape-rendering="crispEdges"/>
<g fill="none" stroke="#000" stroke-width="1.45" stroke-linejoin="round" stroke-linecap="square" shape-rendering="crispEdges"><path d="M150.3 231.2L157.7 232.0L164.3 232.8L170.9 233.3L175.9 233.9L182.5 234.9L185.8 234.1L189.1 234.1L194.0 233.1L197.3 232.8L200.6 234.1L203.9 233.4L208.9 233.6L215.5 234.9L218.8 236.1L220.4 236.8L227.0 236.6L230.3 236.1L230.3 237.7L233.6 236.1L236.9 236.5L240.2 236.8L246.8 236.8L250.1 236.1L250.9 237.6L253.4 235.7L250.1 234.1L251.8 230.3L255.1 231.7L256.7 233.9L259.2 235.7L263.3 237.2L266.6 236.5L268.2 234.1L273.2 233.6L274.4 235.7L273.2 238.0L269.9 239.2L266.6 238.8L266.6 242.0L263.3 242.8L260.0 243.1L256.7 244.7L253.4 247.6L252.2 249.2L252.6 251.2L255.1 251.2L255.9 253.9L260.0 253.9L263.3 254.9L268.2 256.6L272.7 257.0L273.2 260.3L274.9 261.9L275.7 263.0L278.1 262.7L278.5 261.1L277.3 257.9L280.6 255.5L282.3 253.1L279.0 251.1L280.6 249.2L279.8 245.5L284.8 245.7L289.7 246.8L293.0 247.6L293.8 249.2L293.0 251.1L296.3 251.9L299.6 251.1L301.2 248.7L304.6 251.6L307.0 254.3L309.5 256.8L312.8 257.9L314.4 259.5L316.1 261.9L315.3 262.7L312.0 263.1L309.5 264.7L304.6 264.6L299.6 264.7L297.1 266.2L294.6 267.8L292.2 269.5L291.4 270.1L294.6 268.6L297.9 266.6L301.2 266.3L302.4 267.0L301.2 268.2L299.6 268.2L301.2 269.8L302.1 271.1L303.7 271.4L307.0 271.7L307.9 272.5L309.5 271.4L309.0 269.8L307.9 272.2L304.6 273.5L302.9 273.8L300.4 275.4L299.3 274.6L302.1 272.5L297.9 273.0L297.9 273.5L294.6 274.6L292.5 275.4L291.7 276.5L291.5 277.3L293.0 278.1L293.0 278.4L290.9 278.6L288.1 279.0L286.4 279.8L286.1 281.7L284.8 282.5L283.9 281.7L284.6 283.3L283.1 284.1L283.1 285.7L283.6 287.3L283.9 288.4L282.3 289.4L280.1 290.5L278.1 291.3L275.7 293.2L274.4 295.2L274.2 296.8L275.5 299.2L276.5 301.6L276.3 303.5L275.7 304.5L274.5 304.5L273.5 302.9L272.0 300.3L271.9 298.4L269.9 296.8L267.8 297.3L265.8 296.2L263.3 296.2L260.8 296.5L261.0 298.1L259.2 298.1L256.7 297.5L253.4 297.5L251.8 298.1L249.3 299.5L248.0 300.8L248.1 303.2L247.3 305.6L247.1 308.8L248.0 311.5L249.6 313.8L250.4 314.8L252.6 315.6L255.1 315.1L257.0 314.9L258.8 313.8L259.2 311.5L260.0 310.8L263.3 310.2L265.0 310.3L265.3 311.5L264.1 313.5L263.6 315.4L262.8 316.7L262.8 318.3L261.8 319.2L263.3 319.6L266.6 319.2L269.1 319.4L271.2 320.7L270.7 323.1L270.6 325.4L270.4 327.0L271.6 328.6L272.9 330.2L274.9 330.5L276.8 329.4L278.5 329.6L281.0 330.8L281.8 331.8L283.1 329.7L283.9 327.8L285.1 327.0L288.1 326.5L290.5 324.8L290.9 325.8L289.7 327.0L290.5 327.3L291.4 327.0L293.0 326.2L293.0 325.1L294.6 326.2L296.0 327.5L299.6 327.7L302.1 328.3L304.6 327.5L306.2 327.5L307.9 328.9L308.2 330.8L309.8 331.5L312.0 333.4L314.1 335.0L316.9 335.1L319.4 335.3L321.9 336.6L323.5 337.7L324.8 341.0L326.0 342.9L326.0 344.5L328.5 345.3L329.3 345.6L332.6 346.4L335.1 348.0L337.6 348.3L340.0 349.1L342.5 348.9L345.0 350.4L347.1 352.0L349.9 352.8L350.8 354.8L351.1 357.2L349.9 359.6L347.4 362.0L345.8 364.8L344.1 366.7L344.1 369.9L343.7 373.1L342.5 376.3L340.9 379.1L339.2 380.9L336.7 381.0L334.2 382.2L331.8 383.0L329.3 384.7L328.3 386.6L328.3 389.0L326.3 391.4L324.4 393.8L322.4 395.7L320.4 398.2L318.6 399.6L316.1 400.0L313.6 399.3L312.1 398.5L314.0 400.4L314.1 402.2L313.3 404.9L311.1 406.0L307.9 406.5L305.9 406.5L305.7 408.9L303.7 409.8L301.2 409.6L301.2 411.2L303.4 412.0L301.2 413.1L300.8 415.2L297.9 416.5L297.1 418.1L299.6 419.2L299.9 420.4L297.1 422.4L294.6 424.7L294.6 426.3L295.8 427.6L293.8 427.6L291.4 428.4L291.4 430.0L288.9 429.5L287.2 428.4L285.6 427.4L284.8 424.7L283.9 421.6L283.9 418.9L286.4 417.6L285.6 415.2L288.1 412.8L288.1 411.2L286.7 410.4L286.7 407.3L287.2 403.6L288.4 400.9L290.2 397.4L290.5 393.8L290.9 390.6L291.5 387.4L292.2 384.2L292.3 381.0L292.8 377.9L292.5 373.7L290.7 372.1L288.1 370.7L284.8 369.1L282.8 366.7L282.3 365.2L281.1 363.6L279.8 361.2L278.5 358.8L277.3 356.4L276.5 354.8L274.5 354.0L274.4 351.6L276.0 349.9L276.7 348.5L275.0 348.0L275.7 346.1L276.5 344.5L276.5 343.1L278.1 342.6L279.0 341.3L280.6 340.4L281.0 338.5L280.6 336.6L281.0 335.0L280.0 333.1L279.3 331.5L277.3 330.4L276.0 331.5L276.5 332.7L274.9 332.9L273.2 331.5L271.6 331.5L270.6 330.8L269.9 329.4L268.2 328.6L266.9 327.8L267.1 327.0L265.8 325.4L264.1 323.8L263.6 323.4L261.6 323.2L260.0 322.6L257.5 322.3L256.2 321.3L254.2 319.4L252.1 318.8L250.1 319.6L247.6 319.2L245.2 318.3L242.7 317.5L240.2 316.1L237.7 315.4L235.2 313.5L234.4 311.9L234.8 310.3L233.6 308.3L232.0 306.4L230.3 304.8L228.2 303.7L227.8 302.1L226.2 300.8L225.4 300.0L223.7 298.6L222.4 296.8L221.7 294.9L219.2 294.1L219.1 295.2L219.6 296.8L221.2 298.4L222.4 300.0L223.7 301.9L224.9 304.0L226.2 305.9L227.8 307.6L227.0 308.1L225.8 307.2L223.7 305.6L223.4 303.2L221.2 301.9L220.1 300.8L220.1 299.7L218.8 297.9L217.4 296.4L216.1 294.4L215.3 292.9L215.0 292.1L213.1 290.8L212.2 290.3L209.7 289.7L209.2 288.4L207.4 286.3L206.4 284.9L205.9 284.1L204.4 282.5L203.4 280.5L203.7 278.6L203.1 276.5L203.9 273.8L204.1 271.1L203.6 269.8L202.7 267.6L205.6 267.8L206.5 269.3L206.4 267.4L205.6 266.6L204.7 265.9L202.2 264.6L199.0 263.5L198.1 261.9L196.5 260.3L194.0 257.9L193.2 256.3L190.7 254.7L188.2 252.3L184.9 250.8L182.5 251.6L180.8 250.8L177.5 249.5L174.2 249.2L170.9 249.2L167.6 247.9L164.3 247.9L161.8 249.2L161.0 250.3L158.0 250.4L158.5 248.4L161.0 247.3L159.4 247.6L156.9 249.2L155.2 250.3L154.1 251.6L151.9 252.8L149.4 254.4L147.0 255.5L143.7 256.3L140.4 257.1L137.1 257.7L140.4 256.2L143.7 255.2L147.0 253.9L148.6 252.3L149.1 251.1L147.0 251.1L144.5 251.2L141.2 251.2L141.2 249.5L137.9 249.3L135.6 248.4L136.2 246.8L134.6 246.5L136.2 245.2L136.7 244.4L139.6 244.2L142.0 243.6L142.9 242.0L139.6 242.0L136.2 242.0L133.8 241.2L131.3 240.3L134.6 239.3L137.9 238.8L138.7 239.5L141.2 239.5L142.0 239.0L139.6 238.0L137.9 236.9L134.6 235.8L134.3 235.0L137.9 234.9L139.6 233.6L142.9 232.8L146.2 232.0L150.3 231.2M295.3 428.1L296.3 429.5L298.8 430.8L300.9 431.4L299.6 431.9L296.3 432.4L293.0 432.2L289.7 431.1L286.4 428.7L291.4 430.3L292.2 429.2L293.8 428.1L295.3 428.1M307.9 426.3L311.1 426.0L313.1 426.5L311.1 427.6L307.9 427.1L307.9 426.3M288.1 220.2L296.3 217.4L306.2 214.5L317.8 213.7L334.2 212.9L350.8 211.8L363.9 212.1L375.5 214.2L388.7 215.0L378.8 217.4L377.1 219.8L377.1 222.2L373.9 223.7L376.3 225.3L375.5 226.9L372.2 228.5L368.9 230.1L372.2 231.7L371.4 233.0L365.6 234.1L367.2 234.9L359.0 236.1L354.1 237.2L350.8 239.2L345.8 240.1L342.5 241.2L340.9 243.6L338.4 246.0L337.6 248.4L335.9 249.2L332.6 248.1L329.3 247.6L326.8 246.0L324.4 243.6L322.7 241.2L320.2 238.8L320.2 236.5L324.4 234.9L321.1 234.1L318.6 232.8L322.7 232.5L318.6 230.9L316.9 229.3L314.4 226.9L312.0 224.5L307.9 223.7L299.6 223.7L294.6 223.3L291.4 221.8L294.6 221.4L288.1 220.2M398.8 287.6L399.8 287.5L403.6 288.4L405.2 288.7L408.5 287.6L411.0 286.5L413.4 286.0L416.8 286.0L420.1 285.7L423.4 285.4L425.3 285.4L426.6 285.7L425.8 286.8L426.2 288.1L425.2 290.0L426.6 291.1L427.5 291.7L429.9 292.2L433.6 293.2L434.1 294.4L437.4 295.4L439.9 296.4L441.5 295.2L441.5 293.2L444.0 292.2L446.4 292.7L449.8 294.1L453.1 294.8L456.4 295.4L458.8 294.4L461.3 294.8L462.1 296.8L462.3 297.6L463.8 300.0L464.6 302.4L466.2 304.8L467.1 306.4L467.4 308.0L469.4 309.5L469.9 311.1L470.0 313.5L472.0 315.6L473.7 319.9L476.1 321.5L478.6 323.8L479.9 324.6L479.8 325.9L481.1 327.8L484.4 327.3L487.7 326.7L491.0 326.2L493.0 325.4L492.8 327.8L492.3 329.4L491.0 331.8L489.4 334.2L487.7 337.0L485.2 339.7L482.8 341.3L480.3 343.4L477.8 346.1L476.1 347.7L474.5 350.1L473.7 352.0L472.9 354.0L473.7 355.6L473.3 358.0L474.2 360.4L475.3 361.7L475.3 365.2L475.7 368.0L474.5 370.2L472.0 371.8L469.6 373.1L467.9 374.7L465.9 376.1L466.2 378.7L467.1 381.0L466.7 383.4L462.9 385.0L462.6 387.1L462.1 389.8L459.6 392.2L458.0 394.2L455.5 396.5L453.1 398.0L450.6 398.5L447.3 398.7L444.8 398.8L441.5 399.8L439.0 399.0L438.7 396.9L438.2 395.3L437.0 393.0L435.7 390.1L434.1 387.7L433.2 385.0L432.4 381.8L432.3 379.5L430.8 377.1L429.1 373.9L428.0 371.5L428.0 369.1L428.8 366.7L430.4 364.4L431.3 362.0L430.8 359.6L429.9 358.0L428.8 354.4L428.6 353.6L428.0 351.6L426.6 350.5L424.5 348.5L423.4 346.1L423.8 344.5L424.2 342.9L424.7 340.5L424.5 338.9L423.2 337.4L421.7 337.4L420.1 337.5L418.4 337.7L417.2 336.2L415.9 334.6L413.4 334.3L411.0 334.6L409.3 335.3L406.9 336.2L405.2 336.9L403.6 336.4L401.1 336.2L398.6 336.9L396.1 337.5L393.6 336.6L391.2 334.5L389.5 333.5L387.9 332.6L386.7 331.0L386.2 329.1L384.2 327.5L383.4 326.7L380.9 325.0L380.8 323.1L380.0 321.1L381.3 319.1L381.6 316.7L382.1 314.3L381.3 313.5L380.6 311.1L380.4 310.3L382.1 307.2L383.8 305.6L384.1 304.0L386.2 301.9L387.1 300.3L389.5 299.5L392.0 297.6L392.5 296.0L392.3 294.4L393.6 292.4L396.1 291.0L397.8 290.0L398.8 287.6M489.8 363.6L491.8 369.1L490.2 372.3L486.9 381.0L486.1 384.2L482.8 385.2L480.6 381.8L479.9 379.5L481.9 375.5L481.1 371.5L482.8 369.9L486.1 368.3L487.7 365.9L489.8 363.6M399.3 287.3L398.1 286.3L396.9 285.4L394.0 285.7L394.0 283.3L392.8 282.9L393.6 280.9L394.1 278.6L393.6 276.2L395.3 275.1L398.6 275.2L401.9 275.5L405.2 275.5L406.4 273.8L406.7 271.7L405.2 269.8L403.6 269.0L401.1 268.2L400.7 267.4L403.6 267.0L405.9 267.1L405.5 265.5L406.5 266.0L408.8 265.9L411.0 264.9L411.3 263.6L413.4 263.0L415.1 261.9L416.3 260.3L417.6 259.7L420.1 259.3L422.0 259.2L423.0 258.7L422.7 257.1L421.9 255.5L422.0 253.9L424.2 253.6L426.0 252.8L425.5 254.7L426.3 255.5L424.7 256.3L424.5 257.4L426.3 258.7L428.3 258.4L430.8 258.1L431.9 258.9L434.9 258.2L438.2 257.4L439.4 258.1L441.2 258.1L441.5 257.3L443.1 256.6L443.1 254.3L444.0 253.3L445.6 252.8L448.1 253.9L448.6 252.7L447.3 251.6L447.3 250.4L450.6 250.0L454.7 250.0L458.0 249.3L455.5 248.4L451.4 248.5L446.4 249.3L444.0 248.2L443.6 246.3L443.6 244.4L446.4 242.8L449.8 241.2L450.2 240.4L448.1 240.0L444.8 240.4L443.6 242.0L440.7 243.6L437.9 245.5L436.9 247.6L437.0 248.4L439.4 249.2L439.0 250.3L436.6 251.2L435.7 253.1L434.9 255.2L432.4 255.5L431.9 256.5L429.9 256.5L429.5 255.2L428.0 253.1L427.0 251.1L426.0 250.0L424.2 250.9L421.7 252.2L420.1 252.3L417.7 251.1L417.1 249.2L416.8 246.8L417.2 245.7L420.1 244.4L422.5 243.6L425.0 242.8L426.6 241.2L429.1 239.6L429.9 238.0L432.4 236.5L434.9 235.3L438.2 234.1L441.5 233.3L445.6 232.5L449.8 231.7L453.1 231.7L456.4 232.0L459.6 232.8L458.0 233.8L462.9 234.2L467.9 234.5L472.0 236.0L476.1 236.9L476.5 238.5L474.5 239.3L471.2 239.5L466.2 238.8L462.9 238.5L463.8 239.6L465.9 241.2L465.8 242.2L468.7 242.8L470.9 242.3L470.9 241.2L474.2 241.9L475.3 241.2L474.5 240.0L477.0 239.2L479.4 239.0L481.4 239.3L481.1 237.7L480.8 236.1L484.4 236.1L484.4 238.2L487.7 237.1L492.6 235.8L496.8 235.7L499.2 235.7L503.4 235.3L505.9 234.9L508.3 233.6L508.3 235.3L512.5 234.1L515.8 234.9L519.0 235.7L521.5 235.7L519.0 234.1L519.0 232.2L519.9 230.9L522.4 228.8L526.5 228.5L529.0 230.4L528.1 232.5L529.0 234.9L528.1 236.5L526.5 238.8L529.8 238.0L530.6 235.7L531.4 231.7L531.4 229.3L535.5 230.1L538.0 229.6L541.3 229.3L541.3 227.7L547.1 227.4L552.0 226.1L552.0 225.3L557.0 224.4L565.2 223.7L573.5 222.9L580.6 221.0L583.4 221.7L586.7 222.6L593.3 223.7L595.8 224.5L595.0 226.9L590.0 227.2L595.0 227.7L598.2 227.4L604.9 228.5L611.5 227.7L617.2 227.7L620.5 230.1L622.2 231.7L624.6 232.0L628.0 230.9L632.9 230.9L636.2 230.7L639.5 229.3L641.1 228.8L649.4 229.5L656.0 230.7L660.1 231.8L667.5 231.7L672.5 233.3L672.5 233.9L675.8 233.9L680.8 233.9L685.7 233.6L689.8 233.3L689.8 235.2L694.0 233.6L698.9 233.6L705.5 235.0M705.5 240.7L703.0 241.7L701.4 241.7L704.7 244.4L703.8 245.4L698.9 246.0L694.8 246.6L692.3 247.6L689.5 249.2L684.0 248.7L680.8 249.3L678.3 249.5L677.9 251.6L675.8 252.7L677.8 255.2L675.8 257.1L672.5 260.0L670.0 260.4L667.5 263.5L665.9 260.3L665.2 257.1L665.9 253.9L669.2 252.0L672.5 249.8L675.8 248.1L678.6 245.2L673.0 246.3L667.5 246.8L664.2 250.3L661.0 250.6L657.6 250.3L653.5 250.1L648.6 250.3L643.6 250.4L640.3 252.3L636.2 254.7L631.7 257.4L635.4 258.7L637.9 258.7L641.5 260.0L641.6 261.6L640.3 263.5L640.3 265.9L639.8 267.8L637.0 270.6L633.7 273.3L631.2 275.4L628.0 276.5L626.3 275.9L624.3 277.0L622.7 278.1L622.5 279.7L619.7 280.9L618.9 282.1L620.2 283.3L621.8 285.7L622.0 287.6L621.4 288.7L618.9 289.4L617.1 289.7L617.2 287.3L617.6 285.7L616.4 284.4L614.8 284.1L615.2 281.7L613.6 281.1L611.5 281.6L609.0 282.5L609.5 279.7L608.1 279.5L604.9 282.2L602.7 282.5L604.0 284.1L604.9 285.2L607.8 284.4L610.6 285.2L608.1 286.5L605.7 288.6L606.2 290.0L607.8 292.1L609.5 294.0L609.6 295.4L608.1 296.4L609.8 297.2L609.3 299.2L607.3 301.6L606.0 303.5L604.0 305.3L601.5 307.2L599.9 308.1L597.1 308.9L595.8 309.2L593.3 310.0L590.8 310.7L590.0 312.2L589.5 310.3L587.0 310.2L585.0 311.1L584.2 312.7L583.1 314.3L584.2 316.2L585.9 318.1L587.5 319.4L588.7 322.3L588.8 324.6L588.4 326.2L586.7 327.0L585.0 328.0L584.6 329.4L582.1 330.7L581.6 328.9L581.4 327.8L579.3 327.7L578.5 326.2L577.3 325.1L575.1 324.3L575.0 323.2L573.5 323.2L573.5 325.4L572.3 327.3L572.2 329.7L573.8 331.2L574.3 332.9L576.3 333.9L577.6 335.0L579.1 336.9L579.1 338.9L579.8 340.5L580.4 342.3L579.3 342.4L576.8 340.8L575.6 339.9L574.7 338.1L574.0 335.8L573.8 334.2L572.2 332.3L570.7 331.9L570.7 329.9L571.2 327.8L571.2 325.4L570.2 323.1L569.9 320.7L569.5 318.3L568.2 317.6L565.9 319.4L564.1 319.1L564.4 316.7L564.1 314.6L562.8 312.9L560.8 311.1L560.0 309.1L558.3 308.8L557.0 309.5L555.4 309.9L553.7 310.0L552.0 310.5L551.7 311.9L550.9 312.9L548.8 313.7L547.1 315.4L544.3 317.5L543.0 318.6L541.0 319.4L540.7 321.5L541.0 323.4L540.2 325.8L540.2 328.1L538.9 329.6L537.5 330.4L536.4 331.6L534.7 330.2L533.9 327.8L532.7 325.8L531.9 323.8L531.3 321.5L530.3 319.6L529.4 317.5L528.6 314.3L528.6 311.9L528.3 310.7L527.6 311.1L525.3 311.6L522.7 309.2L524.5 308.1L521.9 307.5L519.7 306.4L518.6 304.5L514.9 304.3L510.0 304.5L505.9 304.1L503.0 303.5L502.2 301.6L499.2 302.1L496.8 301.9L495.1 300.8L492.6 298.7L491.8 296.8L489.4 296.2L487.7 296.8L487.7 297.9L488.9 299.5L489.8 301.1L491.2 302.4L491.8 304.3L492.6 305.4L493.0 303.2L493.6 304.8L494.3 306.0L497.6 306.2L499.7 304.3L501.1 303.0L501.6 304.8L502.2 306.0L505.2 307.0L507.2 308.8L505.2 311.9L503.9 314.3L502.2 315.9L499.6 316.7L497.6 317.5L494.6 319.1L491.0 320.8L488.9 322.3L486.1 323.2L482.8 324.2L480.3 324.3L479.8 323.4L479.1 321.0L479.0 318.6L477.3 316.2L475.8 314.3L473.2 311.1L472.5 308.8L471.2 306.4L469.9 304.3L467.9 301.9L466.2 300.0L466.2 297.6L465.1 300.0L464.1 299.7L462.3 297.0L461.8 294.9L464.9 294.8L466.1 292.9L467.1 290.6L467.7 288.6L467.9 286.5L466.2 286.2L463.8 287.0L461.3 286.5L458.8 286.8L457.2 287.0L454.7 286.2L453.5 285.7L453.1 283.6L452.2 282.1L451.9 280.9L453.9 280.3L456.4 280.1L456.7 279.0L460.5 278.9L463.8 277.8L466.6 277.8L468.7 278.9L472.0 279.4L475.0 279.4L477.0 278.6L477.0 277.0L474.5 275.4L472.0 274.1L470.0 273.0L469.1 272.5L471.2 270.6L473.2 269.5L470.4 269.8L466.7 270.6L466.2 271.9L468.7 272.5L466.2 273.2L463.9 273.8L462.1 272.4L463.8 271.4L461.3 270.6L459.3 270.6L457.5 272.5L455.9 274.1L454.7 276.2L454.4 277.3L455.0 278.6L456.4 279.0L454.7 279.4L452.2 280.0L451.4 279.7L448.9 279.5L447.3 280.5L448.1 280.9L446.1 280.3L446.3 281.9L448.1 283.8L446.8 284.3L446.4 286.5L444.8 286.3L444.0 284.9L443.1 283.3L441.5 281.4L440.5 280.1L440.7 278.4L439.0 277.0L435.7 275.4L433.6 274.1L432.4 272.7L431.1 272.2L429.9 272.0L428.8 272.5L429.0 274.1L430.9 275.4L431.9 277.1L434.9 277.9L435.2 278.6L438.2 280.0L439.0 280.8L436.6 280.1L435.9 281.3L436.9 282.5L435.7 283.5L434.4 284.1L434.9 282.9L434.4 280.9L432.9 280.0L431.3 279.0L428.8 278.2L426.6 277.0L425.5 275.4L424.2 274.1L422.5 274.1L420.9 274.9L419.2 276.0L416.8 275.5L415.1 275.4L413.6 276.2L413.8 277.8L412.1 278.9L409.8 279.4L408.5 280.9L408.0 281.7L408.8 283.0L407.3 284.1L406.0 285.2L404.9 286.0L401.2 286.2L399.3 287.3M111.5 235.0L118.1 237.2L121.4 238.0L125.5 238.4L128.5 239.5L124.7 240.4L123.9 242.2L119.8 241.5L118.1 240.4L114.0 239.3L111.5 240.7M596.6 379.5L595.8 383.4L595.8 385.8L597.4 389.8L598.6 393.8L599.4 396.9L598.2 399.0L602.4 400.1L605.7 398.8L612.3 398.4L616.4 395.8L621.4 394.7L625.5 394.6L629.6 396.6L632.1 399.8L633.7 398.5L635.4 396.9L635.9 400.1L637.0 400.1L638.7 401.7L640.3 404.9L643.6 405.7L646.9 405.2L649.9 406.5L652.7 404.7L656.0 403.8L656.8 400.9L658.1 398.2L660.1 395.3L661.0 392.2L661.9 389.5L661.1 385.8L660.1 384.2L657.6 381.8L655.2 379.9L653.5 376.8L650.2 374.7L649.4 372.3L648.4 369.9L648.1 368.0L645.6 367.1L645.3 364.4L643.8 361.7L642.8 363.6L642.3 366.7L642.0 369.9L640.3 372.5L637.9 371.8L635.7 369.9L632.9 368.3L632.1 367.5L632.9 365.6L634.1 363.6L632.1 363.6L628.0 362.8L626.3 362.5L624.6 364.0L623.0 365.9L622.2 368.3L620.2 368.3L618.9 366.7L616.4 366.7L614.8 369.1L613.1 370.7L612.3 372.0L610.1 372.0L610.1 373.9L608.1 375.6L604.9 376.3L601.5 377.4L599.1 378.7L596.6 379.5M647.3 409.2L650.2 410.0L653.2 409.5L653.0 411.6L651.9 413.5L649.4 413.8L648.2 412.0L647.3 409.2M693.5 399.2L696.1 400.6L697.2 402.5L698.9 404.2L702.2 404.2L702.7 405.8L700.5 407.1L700.2 408.7L697.7 410.6L696.9 410.1L697.4 408.1L695.6 407.1L696.8 405.4L696.6 403.0L694.0 400.4L693.5 399.2M693.6 408.9L695.9 410.1L695.3 411.6L693.6 413.6L691.1 414.9L690.3 417.4L688.2 418.5L686.2 418.4L683.2 417.6L684.9 415.7L686.5 414.4L689.8 412.8L691.1 410.9L692.6 409.3L693.6 408.9M307.0 238.5L306.2 240.0L302.9 241.2L298.8 239.6L296.3 238.8L301.2 242.0L302.1 243.9L299.6 245.2L295.5 243.3L299.6 246.0L294.6 245.5L290.5 244.4L285.6 242.0L280.6 242.3L279.8 240.9L286.4 240.4L287.2 238.8L288.1 236.5L283.1 235.2L279.8 233.3L278.1 233.6L273.2 233.3L268.2 233.3L262.5 232.5L260.0 230.1L260.8 227.7L266.6 227.2L269.1 228.0L273.2 227.4L275.7 228.8L279.8 228.8L284.8 229.8L289.7 230.9L294.6 232.5L297.1 234.4L299.6 236.5L304.6 237.6L307.0 238.5M265.0 240.7L269.9 239.6L274.0 242.5L275.7 243.4L270.7 244.1L267.4 243.6L265.0 242.8L265.0 240.7M215.5 228.5L220.4 228.0L227.0 228.5L233.6 227.7L235.2 229.3L240.2 230.9L241.0 233.6L238.6 235.2L232.0 234.9L227.0 235.3L221.2 235.5L216.3 234.5L214.6 232.5L218.8 231.7L213.0 230.9L215.5 228.5M201.4 230.1L205.6 231.2L208.9 230.1L213.8 228.8L217.1 227.7L213.8 226.4L205.6 226.3L203.1 227.7L201.4 230.1M240.2 228.5L245.2 227.2L248.5 228.5L248.5 230.6L244.3 231.2L240.2 230.1L240.2 228.5M250.1 226.9L255.1 226.8L259.2 227.7L258.4 229.3L253.4 230.1L250.9 228.8L250.1 226.9M244.3 234.1L248.5 233.6L250.9 234.9L248.5 235.7L244.3 234.9L244.3 234.1M256.7 222.9L261.6 223.1L269.9 222.9L276.5 224.1L276.5 225.7L268.2 226.1L260.0 226.0L255.9 224.5L256.7 222.9M273.2 223.1L279.8 222.5L283.1 220.2L286.4 219.0L293.0 217.4L301.2 215.8L306.2 213.7L293.0 212.6L279.8 212.6L266.6 213.7L258.4 215.0L263.3 216.6L268.2 218.2L265.0 219.8L261.6 221.4L266.6 222.5L273.2 223.1M251.8 215.8L258.4 216.6L263.3 219.0L260.0 220.1L253.4 218.5L250.1 217.4L251.8 215.8M215.5 224.9L222.1 226.1L230.3 225.7L233.6 224.5L230.3 223.3L223.7 223.4L217.1 222.9L215.5 224.9M240.2 225.3L246.8 225.3L246.8 222.9L240.2 222.9L240.2 225.3M205.6 223.7L212.2 223.9L217.1 221.7L212.2 221.4L205.6 223.7M235.2 220.6L243.5 220.9L246.8 219.3L236.9 218.7L235.2 220.6M249.3 224.5L253.4 224.5L254.2 225.7L250.1 225.7L249.3 224.5M275.7 227.7L281.4 227.7L282.3 228.8L276.5 228.7L275.7 227.7M276.5 245.5L277.7 246.5L276.5 246.6L276.5 245.5M281.4 236.5L283.9 236.8L283.1 237.7L281.4 237.4L281.4 236.5M310.7 268.7L313.6 269.0L316.9 270.0L320.2 270.5L321.4 269.0L320.2 267.4L317.8 265.9L316.9 262.5L314.4 263.9L312.8 266.2L310.7 268.7M302.1 265.2L306.2 266.0L306.5 266.5L302.9 265.7L302.1 265.2M302.4 270.3L306.2 270.6L304.6 271.1L302.4 270.3M196.8 263.9L201.4 264.7L204.7 267.4L202.2 267.1L199.0 265.4L196.8 263.9M189.1 258.7L191.0 259.0L192.0 261.4L189.9 260.3L189.1 258.7M153.6 253.1L157.2 252.7L156.1 253.9L153.6 253.1M183.6 252.0L186.6 252.5L186.1 253.9L184.4 253.5L183.6 252.0M187.7 255.0L190.7 256.3L190.2 257.4L188.2 256.5L187.7 255.0M125.2 243.6L129.7 243.9L128.0 244.4L125.2 243.6M132.5 248.8L134.9 248.7L134.6 249.5L132.5 248.8M132.1 259.8L134.3 258.9M129.3 260.6L131.3 259.8M123.9 261.4L126.4 261.1M120.6 261.6L122.2 261.4M115.6 262.4L118.1 262.0M693.1 260.4L694.8 260.6M700.9 262.0L703.0 262.5M682.1 256.6L683.2 257.4M703.0 231.5L705.5 230.9M111.5 230.9L115.6 231.2L114.0 231.8L111.5 231.8M705.5 231.8L703.0 231.5M151.1 312.4L152.8 313.2L151.6 314.3L151.1 312.4M149.9 311.1L151.1 311.5M147.5 310.2L148.3 310.7M145.0 309.4L145.7 309.5M257.5 344.8L258.4 345.9M268.2 309.9L271.6 308.0L275.7 307.8L280.6 310.0L283.9 311.6L286.1 312.4L280.3 313.0L281.4 311.8L278.1 310.2L274.0 309.2L271.6 309.5L268.2 309.9M285.6 315.3L287.4 313.0L290.5 312.9L293.3 313.4L295.6 314.9L293.0 315.4L290.5 316.4L288.9 315.6L285.6 315.3M279.3 315.3L282.6 315.7L281.4 316.2L279.3 315.3M297.6 315.1L300.1 315.4L297.6 315.9M279.8 302.1L281.1 302.9L280.1 304.5M279.5 305.1L280.3 306.0M306.5 327.5L307.9 327.3L307.9 328.5L306.5 328.5L306.5 327.5M307.0 318.6L307.5 319.9L307.9 321.1L307.9 322.6M371.4 242.8L368.9 240.4L372.2 239.0L378.8 239.3L382.1 238.8L384.6 240.4L385.9 241.5L383.8 242.3L378.8 243.6L374.7 243.3L371.4 242.8M399.1 264.9L402.7 264.6L406.9 263.9L410.8 263.1L411.3 260.8L409.0 260.3L408.2 258.7L406.0 257.1L405.2 255.5L403.9 255.0L405.2 253.1L402.7 252.8L401.9 253.0L403.6 251.4L400.2 251.4L398.9 253.1L398.3 254.7L399.4 256.3L400.6 257.4L402.7 257.3L403.6 258.7L403.2 259.7L401.1 259.8L401.4 261.1L399.9 262.2L403.6 262.8L401.4 263.3L399.1 264.9M398.6 261.6L398.3 259.8L399.4 257.9L398.1 256.8L395.0 256.8L394.5 258.1L392.0 258.4L392.3 259.8L393.2 260.9L391.5 261.9L392.8 262.7L395.3 262.2L398.6 261.6M396.5 252.0L398.1 251.7L396.6 253.6M406.4 248.2L406.5 249.3M403.1 250.6L404.2 250.8M396.6 245.7L397.6 246.3M426.6 218.2L431.6 217.4L438.2 217.1L443.1 217.4L453.1 217.1L448.1 218.5L439.9 219.5L444.0 220.1L438.2 221.8L435.7 222.6L432.4 221.4L430.8 220.2L426.6 218.2M443.1 219.8L448.1 220.1L446.4 221.5L443.1 221.2L443.1 219.8M438.2 217.4L444.8 216.6L453.1 217.1L448.1 218.5L439.9 218.0L438.2 217.4M486.1 216.9L494.3 217.1L504.2 216.6L510.8 215.8L500.9 215.3L491.0 216.1L486.1 216.9M493.5 230.9L496.8 231.7L500.1 232.2L503.4 232.0L500.9 230.1L500.1 228.5L502.6 226.9L507.5 225.3L514.1 224.1L521.5 222.5L517.4 222.2L510.8 223.3L504.2 224.5L500.1 226.1L496.8 228.5L493.5 230.9M488.5 234.4L490.7 234.4L490.2 235.2L488.5 235.0L488.5 234.4M505.0 233.0L507.5 233.3L506.7 233.8M524.0 227.9L526.5 228.0M565.2 219.0L573.5 218.5L580.1 219.3L581.8 220.1L573.5 220.6L566.9 219.8L565.2 219.0M560.3 217.4L568.5 215.8L571.9 216.9L565.2 217.7L560.3 217.4M573.5 217.5L580.1 218.5L573.5 218.2M634.5 224.5L641.1 223.7L647.8 224.5L654.4 225.0L649.4 225.7L642.8 225.7L634.5 224.5M639.5 227.2L644.5 228.0L641.1 228.0L639.5 227.2M651.0 224.9L656.8 225.0M642.8 258.2L644.5 260.3L644.9 262.7L645.3 265.1L646.9 266.6L644.5 269.8L645.3 271.1L642.8 271.4L642.8 268.2L642.8 265.1L642.5 261.9L642.8 258.2M649.4 274.0L653.5 272.2M656.0 271.1L659.3 269.5M661.0 267.4L665.9 264.3M640.0 278.6L639.5 277.0L639.2 275.9L642.0 275.7L642.3 272.4L645.3 274.1L648.2 274.6L648.6 275.7L645.3 277.8L642.0 277.0L640.0 278.6M641.6 278.9L642.8 281.7L641.1 284.1L641.1 286.5L640.3 288.4L639.2 288.9L637.5 289.4L634.5 289.5L634.2 290.0L632.6 291.3L631.2 289.7L628.0 290.0L624.6 290.5L624.6 289.7L627.1 288.1L629.6 287.9L632.9 287.6L634.2 285.7L635.0 286.0L637.0 285.1L638.7 283.3L639.5 280.9L640.0 279.4L641.6 278.9M624.5 290.6L626.0 291.6L625.5 294.0L624.2 295.2L623.3 293.7L622.5 292.1L624.5 290.6M627.1 290.5L630.4 290.2L629.9 291.3L628.0 292.4L627.1 290.5M620.0 301.9L619.2 303.0M622.5 299.4L621.8 299.9M609.0 304.5L609.8 305.6L608.1 309.5L606.8 308.0L609.0 304.5M588.4 312.7L591.6 312.7L590.8 315.1L588.4 315.4L588.4 312.7M616.7 291.3L617.9 291.4M607.3 315.1L610.1 315.1L609.8 318.3L609.0 320.7L609.8 322.3L613.1 323.1L613.1 324.6L610.6 323.1L608.1 322.7L607.3 321.5L606.5 319.1L607.3 315.1M609.8 333.4L612.3 331.0L615.6 329.1L617.2 331.8L616.4 334.2L615.2 335.0L613.1 334.2L609.8 333.4M613.6 324.6L615.6 325.1L615.6 327.0L614.4 328.3L613.9 326.5L613.6 324.6M609.8 325.8L611.8 326.2L610.6 327.8L609.8 325.8M611.5 327.2L612.3 328.1L611.5 329.9L610.6 328.9L611.5 327.2M607.3 323.1L609.0 323.5L608.5 325.0L607.3 323.1M601.9 331.2L605.7 327.7L604.9 327.8L601.9 331.2M588.4 342.1L590.0 341.8L592.1 340.5L595.0 339.4L597.4 337.4L599.9 335.0L601.5 333.4L604.5 336.1L602.9 337.8L603.2 340.5L604.9 342.9L602.4 343.7L602.4 346.1L600.7 348.5L599.9 350.9L597.4 350.9L595.0 349.6L592.5 349.7L590.0 347.7L588.4 345.3L588.4 342.1M565.7 335.6L569.4 336.2L571.9 338.6L574.3 341.0L576.8 342.9L579.3 344.5L580.9 347.7L583.4 349.3L583.1 353.7L580.9 353.6L577.6 351.2L575.1 348.5L572.7 345.3L571.0 342.1L568.5 339.7L565.7 335.6M582.1 355.3L584.2 354.0L587.5 355.1L591.2 354.7L594.5 355.6L597.4 356.9L597.4 358.3L593.3 357.7L588.4 356.9L584.2 356.3L582.1 355.3M582.2 347.2L584.2 348.5L583.4 349.3M598.2 357.5L599.2 358.0L599.9 357.8L601.1 358.0L601.2 358.8L599.9 358.6L598.2 358.3L598.2 357.5M601.5 357.8L604.9 357.7L604.9 358.5L601.5 358.8L601.5 357.8M606.2 357.8L611.5 357.7L611.1 358.5L606.2 358.5L606.2 357.8M604.9 359.6L607.8 360.4L606.5 360.9L604.9 359.6M612.3 360.9L614.8 358.8L618.0 357.8L617.2 359.1L613.9 360.7L612.3 360.9M606.2 343.2L608.1 342.6L611.5 342.9L614.8 342.0L613.9 343.9L609.0 343.7L607.0 344.5L608.1 346.1L611.9 345.8L609.8 347.7L611.1 350.9L610.6 352.9L608.6 350.9L607.3 349.3L607.2 353.2L605.7 353.2L605.7 350.1L604.5 348.9L606.2 343.2M618.9 341.3L619.7 342.9L620.9 342.4L619.7 344.0L620.5 345.8L619.2 344.0L618.9 341.3M619.7 349.3L624.3 349.6L622.2 350.1L619.7 349.7L619.7 349.3M616.4 349.6L618.4 349.7L617.2 350.5L616.4 349.6M624.6 345.8L627.1 345.1L629.6 345.8L631.2 349.7L635.4 347.2L637.9 347.7L641.1 348.6L646.9 350.5L649.1 352.8L651.9 354.0L651.4 355.1L653.5 358.0L657.3 360.7L655.7 361.2L651.9 360.4L649.4 357.5L646.9 356.7L644.5 358.8L641.1 359.1L637.9 357.2L636.2 357.8L637.5 355.6L636.2 353.2L632.9 351.8L629.6 350.9L628.0 351.0L627.5 348.9L629.6 348.3L626.3 348.0L624.6 345.8M653.2 353.4L656.0 353.2L659.3 351.3L659.8 352.4L656.8 354.4L653.2 353.4M657.3 348.6L660.1 350.5L661.0 352.0M663.8 353.2L665.6 355.3M666.7 355.6L668.4 356.4M670.8 357.2L673.3 358.0M672.0 359.3L673.8 360.1M673.7 358.0L675.0 359.8M674.6 360.9L676.3 361.7M683.4 368.3L684.4 369.4M684.5 369.9L685.4 370.7M686.0 372.5L686.5 372.9M679.1 376.4L681.6 378.2L684.0 380.1L683.2 379.9L679.6 377.4L679.1 376.4M701.0 372.3L703.2 372.5L702.7 373.4L701.0 373.3L701.0 372.3M703.4 371.0L705.5 370.4M540.5 328.9L542.6 331.0L543.6 332.9L542.6 334.6L540.8 335.0L540.0 332.6L540.5 328.9M561.6 323.1L562.0 325.4L561.3 326.1M563.1 332.9L563.4 333.7M496.6 324.5L498.4 324.6M473.2 353.7L473.7 354.7M479.9 362.8L480.3 363.4M499.7 377.9L500.6 378.2M503.2 376.4L503.7 376.9M522.0 422.4L524.8 422.7L523.7 423.5L522.0 422.4M529.4 428.7L530.3 428.9M345.8 430.3L349.1 430.8L349.1 431.6L346.6 430.8L345.8 430.3M368.1 317.8L369.7 320.7M378.8 298.9L381.3 299.7L382.9 300.0L385.4 299.2L386.2 298.1M380.1 292.4L380.9 292.5M361.5 283.3L363.9 283.0L366.4 284.4M422.5 338.6L423.2 339.3M419.2 344.0L419.6 344.5M429.1 284.1L434.2 283.6L433.4 286.2L429.1 284.8L429.1 284.1M422.0 279.4L424.5 279.4L424.3 282.2L422.4 282.5L422.0 279.4M422.7 277.0L424.2 276.2L424.0 278.6L422.7 277.8L422.7 277.0M447.3 288.1L451.9 288.6L448.1 288.9L447.3 288.1M461.8 288.9L465.4 287.9L463.8 289.4L461.8 288.9M412.5 281.6L414.1 281.3L413.4 282.1L412.5 281.6M446.4 282.5L448.9 284.1M451.4 282.1L452.2 282.5M454.4 286.7L455.0 287.3M426.6 256.0L429.1 255.5L429.1 256.6L427.5 257.1L426.6 256.0M424.7 256.3L426.3 256.6L425.5 257.1M438.5 252.5L439.9 252.7L438.7 253.9M435.7 253.5L436.6 253.5L435.6 255.2M444.5 251.6L446.4 251.4L445.6 252.3L444.5 251.6M445.1 250.8L446.4 250.9M429.9 236.5L433.2 235.5L434.9 234.9M439.9 226.1L440.2 226.4M393.6 231.7L395.3 231.4M301.4 293.2L301.9 293.0M161.7 372.3L162.5 372.8M123.5 365.9L125.5 366.7M119.3 378.0L119.8 378.3M684.9 418.9L686.0 419.2L685.0 419.7L684.9 418.9M116.8 414.1L117.8 414.4M633.9 401.2L636.2 401.4M623.5 362.6L625.5 362.8M633.7 366.4L634.2 367.1M286.4 410.9L287.2 412.0L287.1 413.5L285.7 412.8L286.4 410.9M284.3 421.9L285.6 423.1L284.3 423.9M325.2 344.8L327.6 344.8L328.5 345.8L326.8 347.0L324.7 346.1L325.2 344.8M111.0 477.0L130.2 478.6L154.5 480.2L179.8 479.2M138.3 469.9L147.4 467.9L157.6 466.5L163.6 465.5L171.7 464.4L185.9 462.4L198.0 461.0L208.2 461.8L216.3 463.0L224.4 463.0L232.5 463.8L240.6 462.4L244.6 459.4L252.7 460.4L261.0 459.8M139.3 470.5L144.4 469.5L146.4 471.1L141.4 471.9zM149.5 473.6L167.7 471.1L168.7 473.1L157.6 476.0L154.5 474.6zM261.0 459.8L273.1 460.4L287.3 457.4L291.4 454.3L296.4 449.3L305.5 445.2L318.7 441.8L315.7 444.2L308.6 449.3L306.5 454.3L308.6 461.4L304.5 465.5L291.4 467.1L277.2 467.9L269.1 469.5L281.2 470.5L297.4 472.5L311.6 475.2L319.7 472.5L327.8 469.5L335.9 471.1L346.0 472.5L356.1 471.1L362.2 470.5L370.3 466.5L382.5 463.4L392.6 459.4L402.7 457.4L411.0 455.7M321.7 471.9L327.8 469.1L333.9 469.1L335.9 471.5M411.0 455.9L431.2 454.9L451.5 454.9L463.6 453.3L477.8 452.3L492.0 449.3L502.1 449.3L516.3 453.3L521.3 454.3L520.3 458.4L524.4 457.4L532.5 454.9L548.7 451.3L561.0 449.3M561.0 449.3L573.1 448.3L581.2 448.9L595.4 449.3L611.6 449.7L621.7 450.3L629.8 448.3L642.0 450.3L658.2 452.3L674.4 455.3L682.5 457.4L690.6 458.4L686.5 461.4L677.4 463.4L678.4 466.5L688.5 467.5L670.3 471.5L682.5 474.6L690.6 476.6L705.7 478.6"/><path stroke-width="1.15" d="M205.6 239.6L208.9 238.0L212.2 238.4L213.8 239.6L210.5 240.7L206.4 241.2L205.6 239.6M215.5 247.6L218.8 245.7L223.7 244.7L227.8 244.7L224.5 246.3L220.4 247.6L217.9 247.9L215.5 247.6M224.5 251.2L228.7 250.1L233.6 250.1L228.7 250.8L224.5 251.2M238.6 254.7L240.2 252.3L241.0 253.9L239.4 255.0L238.6 254.7M245.2 259.0L247.6 258.7L249.3 263.5L248.5 264.6L246.0 261.9L245.2 259.0M242.7 260.3L244.3 261.9L243.8 263.0M256.7 270.1L260.0 268.6L263.3 267.0L266.6 267.1L268.7 269.3L268.7 270.6L265.0 270.6L262.5 269.8L259.2 270.5L256.7 270.1M263.6 277.8L263.6 274.6L265.8 271.7L268.2 271.6L267.4 273.3L265.8 275.4L265.8 277.8L264.5 278.4L263.6 277.8M269.1 271.4L274.0 271.4L276.5 273.0L276.5 273.8L274.0 273.8L273.7 275.9L272.4 276.2L270.7 274.9L271.1 273.0L269.1 271.4M270.9 278.2L273.2 278.6L276.5 277.4L278.3 276.5L275.7 276.7L272.4 277.8L270.9 278.2M276.8 275.7L279.8 275.7L282.6 275.4L282.6 274.3L279.8 274.6L277.3 275.1L276.8 275.7M266.6 325.4L268.2 326.7L267.4 327.0L266.6 326.1L266.6 325.4M293.0 369.1L294.6 370.6M460.8 346.1L463.8 344.0L464.9 345.0L464.6 347.4L462.9 348.8L461.0 348.5L460.8 346.1M456.8 349.9L457.3 352.4L458.8 355.6L459.6 358.3L458.8 357.7L457.2 354.8L456.5 351.6L456.8 349.9M464.6 359.8L465.8 362.0L465.9 365.2L466.6 367.2L465.4 366.7L465.1 363.6L464.6 359.8M467.9 337.4L468.4 339.7L467.9 340.5M458.8 342.6L460.1 341.0M430.8 323.1L432.4 323.1L432.4 324.2L430.8 324.2L430.8 323.1M579.8 262.5L582.6 261.4L585.9 260.0L588.4 257.9L589.7 256.0L588.4 256.2L586.7 258.4L584.2 260.0L580.9 261.9L579.8 262.5M529.8 273.0L532.2 270.5L536.4 270.5L538.9 270.1L535.5 270.9L532.2 271.4L530.6 273.2L529.8 273.0M505.0 273.0L506.7 270.6L509.1 270.3L510.3 272.2L508.3 274.1L505.9 275.1L504.7 274.1L505.0 273.0M534.4 277.0L537.7 276.7L536.4 277.4L534.4 277.0M458.5 249.2L459.6 247.3L462.6 247.1L462.9 248.4L460.5 249.2L458.5 249.2M465.4 247.6L467.1 245.2L468.4 246.8L466.2 247.7L465.4 247.6M429.1 251.6L430.8 250.3L431.6 251.2L429.9 251.7L429.1 251.6M432.1 252.7L432.9 251.4M453.5 252.3L453.9 250.8M478.6 283.5L480.3 282.9L479.9 283.6L478.6 283.5M483.1 283.8L483.9 285.4M626.3 272.7L627.6 273.5M573.0 285.6L574.7 286.0L573.5 286.3L573.0 285.6M579.6 323.4L580.9 324.6M634.5 389.3L635.9 389.9L635.0 391.1L634.5 389.3M573.5 226.1L580.1 226.0L583.4 226.3M486.9 276.2L486.5 273.8L487.7 271.7L490.2 270.6L492.6 270.1L495.9 270.1L495.9 272.5L493.5 272.5L492.6 273.8L491.5 274.1L493.5 275.9L495.5 277.0L495.1 278.6L497.1 279.4L495.8 280.9L496.8 282.1L497.3 284.9L497.4 285.7L494.3 286.2L491.5 285.4L489.4 284.1L489.2 283.5L489.8 281.7L491.5 280.5L490.2 279.8L488.7 278.1L486.9 276.2M495.9 278.6L498.4 277.8L497.6 279.4L495.9 278.6M244.8 262.7L246.3 264.6M261.6 265.1L263.3 265.9L262.1 266.2L261.6 265.1M251.8 265.9L253.1 266.6M289.7 238.4L293.0 238.8L291.4 239.6L289.7 238.4M289.7 241.2L292.2 241.5M240.2 243.6L242.7 244.4L241.0 244.7L240.2 243.6M248.5 242.5L252.6 242.7M151.9 249.6L154.4 250.0M205.6 266.6L251.8 266.6L251.8 266.2L252.6 267.1L256.7 267.8L260.0 268.2L260.8 268.2M282.6 274.3L284.8 273.0L290.5 273.0L292.2 271.9L293.0 270.6L294.3 269.2L296.3 269.3L296.6 271.4L297.1 272.7L297.9 273.2M175.9 233.9L175.9 248.7L179.2 249.2L181.6 250.8L183.3 250.0L185.8 249.8L187.4 251.1L189.9 253.5L191.0 254.4L194.0 255.5L193.7 257.1M215.3 292.9L219.2 292.5L225.4 294.8L230.0 294.8L230.0 294.0L232.8 294.0L236.1 297.3L238.6 298.4L239.4 297.2L241.0 297.2L243.5 299.7L244.3 300.8L245.2 302.6L248.1 303.3M256.4 321.5L256.7 320.2L257.5 319.1L259.2 318.9L258.4 317.2L258.4 316.2L261.3 316.2L261.3 319.2L261.8 319.2M261.3 316.2L262.8 315.1M261.3 319.2L261.2 321.6L259.8 322.6M261.2 321.6L262.5 322.3L263.6 323.4M264.5 323.8L266.6 322.6L268.2 321.3L271.2 320.7M267.1 326.9L270.4 327.2M271.6 331.3L272.2 329.4M280.0 333.1L281.0 330.8M290.2 313.2L290.0 315.9M290.9 325.8L288.9 327.0L288.1 329.9L289.2 332.6L293.0 333.4L297.1 334.6L296.6 337.4L297.9 341.3L298.1 342.6M298.1 342.6L293.3 341.8L293.8 343.5L293.0 344.8L293.8 346.1L293.0 351.2M293.0 351.2L289.7 348.5L287.2 346.9L284.3 344.7M284.3 344.7L281.4 344.0L278.5 342.3M284.3 344.7L283.9 346.9L280.1 349.3L279.0 351.6L277.3 352.4L276.0 349.9M293.0 351.2L288.1 352.4L286.4 356.4L288.1 359.3L289.4 360.4L292.2 359.6L292.0 362.0L293.8 362.0M293.8 362.0L295.1 364.4L294.6 367.5L293.8 369.9L293.8 372.3M293.8 372.3L292.5 373.7M293.8 372.3L295.5 375.5L296.0 378.7L297.6 380.7M293.8 362.0L296.3 361.5L300.8 360.1L300.8 363.1L304.6 364.7L307.9 365.9L309.0 367.5L309.2 370.4L312.3 370.4L312.5 372.3L313.3 373.4L312.8 376.0M312.8 376.0L310.8 375.2L306.7 375.6L305.2 379.8M305.2 379.8L302.1 379.9L299.3 379.1L297.6 380.7M297.6 380.7L295.8 383.4L295.5 387.4L293.5 389.8L293.0 393.8L293.0 396.9L293.0 400.1L291.4 403.3L291.4 406.5L290.2 409.6L290.0 412.8L290.5 416.0L289.7 419.2L288.9 422.4L288.1 424.7L289.2 426.3L291.4 427.1L295.6 427.6M295.3 428.1L295.3 431.7M305.2 379.8L307.9 382.3L311.1 383.9L313.5 385.0L312.0 387.7L315.3 388.0L318.4 385.2M312.8 376.6L313.1 379.6L316.6 379.9L316.9 382.6L318.9 382.8L318.4 385.2M318.4 385.2L319.7 386.6L319.4 387.9L316.4 389.5L313.5 392.5M313.5 392.5L312.5 395.3L312.1 398.5M313.5 392.5L316.9 393.6L319.4 395.2L320.7 396.5L320.4 398.2M298.1 342.6L300.4 343.2L302.9 341.5L302.9 338.1L305.0 338.1L307.9 337.4L308.3 336.2M308.3 336.2L307.2 335.0L309.0 333.4L309.8 331.5M308.3 336.2L309.5 336.6L309.8 337.5L310.0 340.5L311.1 342.4L315.3 341.5M314.1 335.0L313.6 336.6L312.8 338.1L314.0 339.3L315.3 341.5M319.4 335.3L318.7 337.4L319.4 338.9L318.6 340.8M315.3 341.5L317.8 340.5L318.6 340.8L321.5 340.8L323.4 338.0M404.9 288.7L405.7 291.3L406.5 293.3L402.7 294.4L400.2 296.0L394.1 298.9L394.1 301.1L400.6 304.8L410.5 311.0L413.4 313.0L413.9 314.3L415.4 314.2L418.4 313.5L428.3 307.2M387.1 300.5L394.1 300.5M380.4 310.7L387.1 310.7L387.1 308.0L388.7 307.3L388.7 303.2L394.1 303.2L394.1 301.1M400.6 304.8L397.8 304.8L399.3 318.4L399.4 319.9L392.8 319.9L389.5 319.7L388.4 321.0M381.3 319.1L384.6 318.1L386.6 320.2L388.4 321.0L389.7 324.8M380.8 322.9L383.8 322.6L385.7 323.2L383.8 323.5L380.8 323.5M380.9 325.0L385.9 324.5L389.7 324.8L394.5 327.0L395.3 328.3M383.8 327.0L385.9 325.9L385.9 324.5M386.7 330.2L390.8 329.4L391.5 331.0L393.6 332.9L394.5 332.4L395.3 328.3M389.5 333.5L391.5 331.0M396.1 337.5L394.5 334.2L394.5 332.4M395.3 328.3L399.4 328.0L403.9 329.2M403.6 336.4L403.9 329.2L403.9 327.0L408.5 327.0M410.5 334.8L409.3 331.0L408.5 327.0L410.0 327.0M411.1 334.6L410.8 329.4L410.0 327.0L412.5 325.0L414.4 325.9M413.0 334.3L413.4 330.2L414.4 325.9L415.1 323.1L420.1 323.8L425.0 323.4L430.8 322.7M399.4 328.0L401.1 324.6L405.2 321.9L408.8 320.7L410.1 323.2L412.5 325.0M408.8 320.7L414.3 320.0L415.4 317.8L415.4 314.2M430.8 322.7L434.1 317.6L434.1 312.7L433.2 308.0L428.3 307.2M428.3 307.2L424.2 302.7L424.7 299.5L424.2 296.5L423.4 293.7L421.2 291.7L422.0 289.4L422.7 285.9M424.2 296.5L425.5 294.1L427.5 291.7M449.8 294.1L449.8 309.5L449.8 312.7L448.1 312.7L448.1 313.5L434.9 307.3L433.2 308.0M449.8 309.5L469.4 309.5M448.1 313.5L448.1 319.6L444.8 323.8L446.1 327.0L447.3 330.7L450.2 333.1L453.7 336.4M422.7 337.2L424.7 334.2L427.5 333.7L429.9 331.0L431.9 324.8L431.6 323.7L430.8 322.7M431.6 323.7L433.2 328.6L433.9 332.6L432.4 336.6L434.9 341.0L430.4 341.0L424.7 340.8M433.9 332.6L439.0 331.8L443.1 329.4L446.1 327.0M427.0 350.7L428.3 348.2L432.3 347.7L431.6 342.4L430.4 341.0M424.5 342.9L427.1 342.9L427.1 341.0M429.9 351.8L432.3 352.3L434.9 350.5L435.2 347.7L437.9 345.3L438.2 341.3L439.2 338.9L440.7 336.6L445.6 337.8L449.8 336.2L453.7 336.4L458.0 338.5L459.3 338.9M434.9 341.0L439.2 338.9M459.3 338.9L463.8 338.5L466.2 335.9L462.9 331.8L464.8 329.4L466.2 326.2L468.4 323.8L468.7 321.8L469.6 317.5L472.0 315.9M447.3 330.7L451.4 328.1L454.7 329.6L458.0 328.6L461.3 325.8L462.9 328.6L464.8 329.4M468.7 321.8L472.9 321.3L475.8 322.3L478.5 324.6L479.8 324.6M478.5 324.6L477.5 327.0L479.4 327.0L479.8 326.2M479.4 327.0L479.4 329.4L482.8 331.0L486.1 331.8L487.7 331.8L482.8 336.6L479.4 337.4L477.8 338.0L473.7 338.9L471.2 338.8L467.9 337.5L466.2 335.9M477.8 338.0L476.1 340.1L476.1 344.5L477.0 347.2M464.6 337.8L466.2 341.8L464.6 344.2L464.6 346.1L470.7 349.4L473.2 352.0M459.3 338.9L459.6 341.0L457.5 343.4L457.3 346.7L458.8 346.1L464.6 346.1M457.3 346.7L456.7 348.6L456.8 351.5L457.2 354.0L459.2 357.5M456.7 348.6L459.3 348.3L458.8 346.1M456.8 351.5L459.3 349.7L459.3 348.3M459.2 357.5L462.8 359.4L464.6 359.6M465.4 362.8L470.4 363.1L475.2 361.2M465.9 365.9L467.6 369.9L466.6 371.5L465.1 369.9L465.4 367.5L462.9 366.7L462.5 366.1L463.4 362.9L462.8 359.4M459.2 357.5L455.9 358.0L455.5 359.1L455.7 363.6L457.7 363.9L457.7 365.8L455.4 364.4L453.4 362.9L450.2 362.3L448.6 362.5L448.1 361.8M448.1 361.8L445.1 362.3L444.5 359.6L444.5 356.1L440.7 355.6L440.3 357.2L437.5 357.4L435.9 353.9L429.9 353.9L428.6 353.9M428.6 352.4L429.9 351.8L429.6 353.9M448.1 361.8L448.1 365.2L444.8 365.2L444.8 370.2L447.1 372.5M428.0 372.0L431.6 372.1L439.0 372.1L447.1 372.5L450.2 372.8M447.1 372.5L443.1 373.6L443.1 379.5L441.5 379.5L441.5 383.9L441.5 389.6L435.7 389.9M441.5 383.9L442.8 387.1L446.4 384.7L450.7 385.0L453.1 382.0L457.0 379.8L460.1 380.1M457.0 379.8L454.2 377.1L450.2 372.8L453.1 372.9L456.2 369.9L458.7 369.3M458.7 369.3L458.3 368.0L462.9 366.7M458.7 369.3L462.8 371.0L462.9 374.7L462.1 378.3L460.1 380.1L461.3 383.4L461.3 385.8L462.6 387.1M453.1 391.5L455.5 389.9L457.0 391.4L455.0 393.1L453.1 391.5M459.6 385.8L461.3 385.8L461.3 387.7L459.6 387.7L459.6 385.8M464.9 294.8L466.1 297.6M466.1 297.6L467.1 294.4L467.2 292.5L467.6 291.6L467.1 290.6M466.2 297.8L467.9 298.1L470.4 296.8L469.6 294.4L472.9 293.7L473.2 293.3L472.5 291.4L469.2 293.2L467.2 292.5M472.5 291.4L476.1 289.8L476.5 286.5L478.5 285.6M467.9 287.3L469.1 286.0L471.2 286.0L474.5 286.0L478.5 285.6L482.4 285.4L481.4 283.3L481.9 281.4L480.4 280.1L480.3 279.2L478.6 278.6L477.0 278.6M466.4 291.9L467.6 291.6L468.7 290.2L467.9 289.5M474.5 275.4L478.6 275.9L481.1 276.8L485.1 277.9L487.4 279.0L488.7 278.1M480.3 279.2L482.8 278.9L485.1 277.9M482.8 278.9L484.4 280.6L485.2 282.5L484.4 282.7M481.9 281.4L484.4 282.7L487.7 281.7L489.2 283.5M482.4 285.4L484.4 287.6L483.6 289.7L484.4 292.1L487.2 293.7L487.4 295.2L488.5 296.8M487.5 296.8L485.2 298.3L487.2 299.2L488.4 299.2M473.2 293.3L477.8 295.1L482.3 298.1L485.2 298.3M479.1 318.4L479.9 316.7L483.6 317.0L486.1 317.5L487.7 315.9L494.3 314.3L495.9 318.1M494.3 314.3L499.2 312.7L500.4 309.5L499.6 308.4L495.1 308.0L493.6 306.0M499.6 308.4L500.6 306.0L501.4 304.9M492.3 305.3L493.1 305.6M497.4 285.2L500.1 284.1L503.0 283.8L506.3 284.9L509.5 286.3L509.5 287.9L508.5 290.0L508.8 292.9L510.3 294.6L509.0 297.2L512.1 299.7L512.1 301.3L512.9 302.1L510.5 302.9L510.1 304.5M509.0 297.2L511.6 297.8L514.4 297.6L517.9 297.2L518.1 295.4L520.4 294.6L522.8 293.8L523.2 292.1L524.5 291.6L524.0 290.5L525.8 290.0L526.6 288.6L526.1 287.1L529.0 285.9L531.6 285.7M509.5 287.9L511.3 288.4L514.9 286.8L518.2 285.1L520.7 285.7L523.2 285.4L524.3 284.8L525.5 283.5L526.3 284.3L526.6 286.2L529.4 285.1L532.1 285.4M518.2 285.1L514.1 282.5L511.6 280.9L509.1 279.0L507.5 277.4L505.0 276.7L502.6 278.9L500.9 278.9L500.9 273.0L505.2 272.0L509.1 274.1L510.8 275.4L515.6 275.1L517.4 277.1L518.2 279.0L520.7 279.4L522.4 278.7L525.6 277.3L529.8 276.2L532.2 276.3L535.5 276.3L539.2 276.5L540.8 277.4M495.1 278.2L498.8 277.8L500.9 278.9M520.7 279.4L524.8 279.4L525.6 280.6L522.8 280.6L519.9 281.7L521.2 283.6L520.7 285.7M525.6 280.6L530.1 281.7L525.6 281.9L522.8 280.6M525.6 277.3L525.3 279.0L529.0 279.7L525.6 280.6M540.8 277.4L541.3 276.2L541.3 273.3L544.6 272.5L545.5 269.5L549.6 269.8L549.9 267.6L552.5 266.5M488.5 270.5L486.1 268.2L485.2 267.4L486.1 266.2L485.7 264.6L488.9 264.1L492.2 262.4L495.1 262.7L498.4 263.5L500.4 264.1L503.9 263.3L506.8 264.1L510.0 263.8L509.1 262.7L507.8 261.6L509.1 260.3L510.8 258.7L515.8 258.1L521.5 257.1L525.3 256.6L526.0 258.4L529.8 258.7L531.4 259.2L534.7 258.4L536.9 259.8L540.5 263.8L543.0 263.8L546.3 263.5L549.1 265.7L552.5 266.5M552.5 266.5L556.5 264.4L561.1 263.8L564.4 265.1L569.0 265.4L570.7 264.3L571.0 261.9L577.1 262.8L577.1 264.3L581.8 264.4L585.0 265.2L588.4 266.2L591.6 266.2L595.0 265.4L597.4 264.7L601.1 265.4M553.4 266.3L553.7 267.3L557.0 268.6L558.6 270.5L558.3 272.5L562.8 273.2L565.9 274.1L567.6 276.7L573.5 276.8L576.5 277.0L581.8 278.4L585.9 277.1L590.0 276.8L593.0 275.1L593.1 273.0L596.6 273.2L599.9 271.9L602.4 270.6L606.2 270.3L603.2 268.6L599.2 268.4L599.9 267.0L601.1 265.4M601.1 265.4L602.9 265.9L605.2 264.9L606.5 262.4L607.7 260.9L606.7 259.8L612.4 259.5L615.9 260.3L618.0 263.0L618.9 265.1L622.2 266.0L624.2 266.8L624.6 268.7L627.1 268.7L630.8 267.8L629.6 269.8L628.1 272.8L626.0 272.5L624.6 273.3L625.1 275.4L624.0 277.1M624.0 277.1L621.4 277.8L619.7 278.6L617.9 278.1L616.4 279.5L613.6 281.1M617.6 284.4L620.2 283.2M540.8 277.4L537.2 279.4L533.9 280.3L530.3 281.3L530.1 281.7L532.1 283.3L532.1 285.4L533.9 287.3L536.9 288.1L538.7 290.0L539.2 292.9L538.4 294.4L539.7 295.2L542.1 296.5M536.9 288.1L530.6 289.4L530.6 292.1L532.7 293.2L531.4 295.1L529.6 297.0L528.8 298.4L527.1 300.2L525.0 300.3L523.3 301.6L524.3 303.2L525.5 304.8L525.6 305.7L522.0 305.9L521.0 306.8M531.6 285.7L533.1 286.2L535.5 288.9L538.7 290.0M542.1 296.5L540.7 298.7L543.0 300.0L545.9 301.0L548.4 301.6L550.4 302.2L553.9 302.6L553.9 300.2M542.1 296.5L544.1 296.7L547.1 298.6L550.1 299.7L551.9 300.0L553.9 300.2L555.2 301.1L555.5 299.9L557.0 299.5L559.6 300.2L562.8 298.9L565.2 298.1L567.4 297.8L569.0 299.5M555.2 301.1L556.7 302.1L560.3 301.9L559.6 300.2M569.0 299.5L567.2 301.1L565.6 302.2L564.6 304.5L563.9 306.4L562.6 306.5L562.3 309.2L561.3 310.3L560.8 311.6M553.9 302.6L555.0 302.7L556.7 303.2L556.7 304.3L560.8 304.6L560.6 305.9L559.0 306.4L559.0 307.6L560.0 307.6L560.8 310.5M553.9 302.6L553.9 304.9L555.0 305.9L555.0 307.6L555.4 309.5L555.4 309.9M569.0 299.5L571.4 300.8L571.4 303.3L569.5 305.6L571.5 306.4L571.9 308.1L572.7 309.5L575.5 310.3L575.5 310.8L573.8 312.2M573.8 312.2L571.5 313.2L569.9 315.1L569.2 317.5L571.2 318.8L570.7 320.7L572.0 323.1L572.8 325.8L571.2 328.6M573.8 312.2L574.3 313.5L575.5 313.5L575.3 316.7L577.0 315.6L578.9 315.3L581.3 316.9L581.4 318.4L582.7 320.0L582.6 321.6L578.5 321.8L577.6 322.9L578.3 325.9M573.8 334.2L575.1 335.3L577.0 334.6M577.1 308.9L578.3 310.0L580.4 312.1L581.3 313.2L580.1 313.8L581.8 314.8L584.6 317.5L586.0 320.2L585.9 321.1L582.6 321.6M585.9 321.1L585.9 325.0L583.4 325.9L583.1 327.2L580.9 328.0M575.5 310.8L577.1 308.9L579.3 308.4L582.2 307.5L584.6 308.3L584.6 309.5L586.7 310.3M589.3 341.3L590.8 343.1L593.3 342.3L596.1 342.4L598.2 340.1L599.4 337.8L602.5 337.8M596.6 337.2L597.9 338.1L598.7 336.7M641.1 348.6L641.1 359.1M613.1 359.4L614.8 359.6L615.1 358.8M393.8 277.9L395.0 277.8L397.6 277.9L397.1 279.4L396.9 281.4L396.1 281.6L396.9 283.8L396.3 285.4M405.5 275.5L409.7 276.5L411.3 277.0L413.8 277.1M420.9 274.9L420.1 274.1L420.1 272.7L420.1 271.6L418.6 271.1L418.6 270.5L420.1 269.0L421.0 268.9L422.0 266.6L419.1 265.9L416.4 265.1L415.4 264.6L412.6 263.3M414.1 262.8L415.6 262.8L416.8 262.7L418.1 263.1L418.4 263.8M419.1 265.9L418.6 264.9L418.4 263.8L418.4 262.2L419.7 261.9L420.1 260.9L420.4 259.8M422.7 257.3L424.8 257.4M431.9 258.9L431.8 260.6L432.8 261.9L433.2 263.5L432.1 263.5L428.5 264.6L429.1 265.9L431.3 267.0L429.9 267.8L429.9 269.0L428.6 268.7L425.8 269.0L424.3 269.0L422.5 268.7L421.0 268.9M420.1 271.6L422.4 270.8L423.4 271.6L424.2 270.8L425.7 270.6L428.6 269.8L429.0 270.3L431.1 270.6L430.9 272.0M424.3 269.0L424.3 269.8L425.7 270.1L425.7 270.6M431.1 270.6L433.2 270.5L435.1 270.1L435.7 269.0L436.7 268.2L436.4 267.3L433.2 266.6L431.3 267.0M433.2 263.5L435.7 264.6L437.4 264.6L439.5 265.9L436.4 267.3M439.5 265.9L441.5 266.3L445.6 266.5L448.1 264.3L447.4 262.7L446.8 261.4L447.9 260.8L447.3 258.9L446.1 258.1L441.2 258.1M447.3 258.9L450.6 258.2L452.4 256.0L455.0 255.4L454.2 253.5L453.7 251.6L454.7 250.0M443.1 255.4L449.6 254.9L452.4 256.0M448.6 252.5L453.5 253.1L454.2 253.5M443.1 256.6L446.1 257.1L446.1 258.1M454.4 248.4L458.0 246.3L460.5 244.6L458.0 242.8L457.7 239.6L456.4 238.0L458.0 236.5L455.5 235.7L456.4 234.7L459.3 233.6M456.4 234.7L454.7 233.3L451.4 233.4L450.9 234.9L446.4 235.3L443.1 234.5L442.3 234.9L447.3 236.5L447.8 238.8L448.3 240.0M442.3 234.9L438.2 235.7L435.7 236.8L433.9 239.2L431.6 242.0L428.5 243.6L428.6 246.8L429.3 248.7L428.0 250.4L427.0 250.9M455.0 255.4L459.5 256.2L459.3 258.2L462.5 259.7L460.5 261.7L464.6 261.6L467.1 264.4L471.2 265.2L474.5 265.7L474.0 268.6L471.5 269.7M447.4 262.7L450.6 262.0L454.4 262.7L458.8 263.0L460.5 261.7M445.6 266.5L445.1 267.6L446.3 268.2L449.6 268.7L452.4 267.8L454.4 267.6L456.7 268.2L458.0 270.8L456.2 270.8L455.0 272.2L457.5 272.5M452.4 267.8L455.0 270.3L455.0 272.2M446.3 268.2L443.1 271.1L442.0 271.3L443.8 272.7L445.6 273.6L446.0 274.3L449.8 275.1L453.1 274.4L455.7 275.1M446.0 274.3L445.5 276.2L445.5 277.3L446.4 278.9L448.9 278.6L451.6 278.7L452.1 278.2L454.7 277.8M452.1 278.2L451.6 279.8M441.5 281.4L443.1 279.7L446.3 278.9M436.7 268.2L439.5 268.6L442.3 267.4L445.1 267.6M435.1 270.1L435.9 270.6L439.5 271.6L442.0 271.3M430.9 272.2L433.7 272.2L435.9 270.6M439.5 271.6L439.9 273.2L440.5 274.3L440.7 275.4L439.0 277.0M434.6 272.7L436.6 272.7L439.9 273.2M434.6 272.7L435.7 274.6L437.5 276.2L439.0 277.0M440.5 277.9L442.3 277.4L442.5 279.4L443.1 279.7M440.7 275.4L442.3 277.4L445.5 277.3M396.5 257.1L395.3 257.9L398.1 258.5"/><polygon points="253.5,217.5 263.6,216.1 274.0,215.6 277.6,216.4 274.0,219.3 270.6,222.9 274.0,225.5 269.7,228.6 263.6,229.4 257.5,227.2 254.0,223.7 249.6,222.9 248.8,220.3" fill="#000" stroke="none" fill-opacity="1.0"/><polygon points="244.2,215.4 255.1,215.4 255.1,216.8 244.2,216.8" fill="#000" stroke="none" fill-opacity="1.0"/><polygon points="275.7,213.3 284.8,213.3 284.8,214.7 275.7,214.7" fill="#000" stroke="none" fill-opacity="1.0"/><polygon points="251.4,230.1 261.2,230.1 261.2,231.6 251.4,231.6" fill="#000" stroke="none" fill-opacity="1.0"/><polygon points="273.9,228.3 278.8,228.3 278.8,230.3 273.9,230.3" fill="#000" stroke="none" fill-opacity="1.0"/><polygon points="242.3,220.5 248.0,220.5 248.0,221.9 242.3,221.9" fill="#000" stroke="none" fill-opacity="1.0"/><polygon points="278.2,219.6 283.0,219.6 283.0,221.0 278.2,221.0" fill="#000" stroke="none" fill-opacity="1.0"/><polygon points="247.8,224.4 253.3,224.4 253.3,225.9 247.8,225.9" fill="#000" stroke="none" fill-opacity="1.0"/><polygon points="278.2,223.2 284.8,223.2 284.8,224.4 278.2,224.4" fill="#000" stroke="none" fill-opacity="1.0"/><polygon points="215.0,220.2 228.4,220.2 228.4,222.0 215.0,222.0" fill="#000" stroke="none" fill-opacity="1.0"/><polygon points="233.2,217.8 249.6,217.8 249.6,220.2 233.2,220.2" fill="#000" stroke="none" fill-opacity="1.0"/><polygon points="222.3,223.2 244.2,223.2 244.2,225.0 222.3,225.0" fill="#000" stroke="none" fill-opacity="1.0"/><polygon points="215.0,225.6 222.3,225.6 222.3,227.5 215.0,227.5" fill="#000" stroke="none" fill-opacity="1.0"/><polygon points="227.1,226.9 251.4,226.9 251.4,228.7 227.1,228.7" fill="#000" stroke="none" fill-opacity="1.0"/><polygon points="215.0,233.5 232.0,233.5 232.0,235.4 215.0,235.4" fill="#000" stroke="none" fill-opacity="1.0"/><polygon points="236.9,232.3 255.1,232.3 255.1,234.8 236.9,234.8" fill="#000" stroke="none" fill-opacity="1.0"/><polygon points="227.1,236.0 234.4,236.0 234.4,237.8 227.1,237.8" fill="#000" stroke="none" fill-opacity="1.0"/><polygon points="287.9,217.1 305.0,217.1 305.0,218.7 287.9,218.7" fill="#000" stroke="none" fill-opacity="1.0"/><polygon points="283.0,220.3 300.0,220.3 300.0,221.8 283.0,221.8" fill="#000" stroke="none" fill-opacity="1.0"/><polygon points="256.3,234.2 266.0,234.2 266.0,236.0 256.3,236.0" fill="#000" stroke="none" fill-opacity="1.0"/><polygon points="267.2,239.6 273.3,239.6 273.3,242.4 267.2,242.4" fill="#000" stroke="none" fill-opacity="1.0"/><polygon points="257.5,240.2 263.6,240.2 263.6,241.7 257.5,241.7" fill="#000" stroke="none" fill-opacity="1.0"/><polygon points="278.8,233.5 281.8,233.5 281.8,243.9 278.8,243.9" fill="#000" stroke="none" fill-opacity="1.0"/><polygon points="272.1,235.4 278.2,235.4 278.2,236.8 272.1,236.8" fill="#000" stroke="none" fill-opacity="1.0"/><polygon points="283.0,229.3 292.7,229.3 292.7,230.8 283.0,230.8" fill="#000" stroke="none" fill-opacity="1.0"/><polygon points="287.9,235.4 300.0,235.4 300.0,236.8 287.9,236.8" fill="#000" stroke="none" fill-opacity="1.0"/><polygon points="313.5,226.4 318.4,228.1 324.4,235.4 326.9,241.4 323.2,241.4 319.6,235.4 315.9,230.5" fill="#000" stroke="none" fill-opacity="1.0"/><polyline points="280.7,214.7 292.9,220.1 305.0,223.2 314.7,227.3" fill="none" stroke="#000" stroke-width="1.6"/><polyline points="280.7,214.2 300.2,214.7 317.2,213.7 334.2,214.5 356.0,213.3 370.6,214.2 387.6,214.2" fill="none" stroke="#000" stroke-width="1.2"/><polygon points="363.3,226.9 373.0,224.4 375.5,229.3 368.2,232.9 362.1,232.9" fill="#000" stroke="none" fill-opacity="1.0"/><polyline points="387.6,214.7 375.5,219.6 371.8,226.9" fill="none" stroke="#000" stroke-width="2.2"/><polyline points="362.1,232.9 348.7,239.0 334.2,248.7" fill="none" stroke="#000" stroke-width="1.6"/><polyline points="280.7,228.1 292.9,231.7 305.0,239.0" fill="none" stroke="#000" stroke-width="2.0"/><polyline points="286.9,411.1 284.5,420.2 285.3,426.3 290.4,430.8 298.4,432.4" fill="none" stroke="#000" stroke-width="3.2"/><polyline points="281.2,460.7 291.4,457.7 297.4,452.6 304.5,447.6 318.7,442.1" fill="none" stroke="#000" stroke-width="2.8"/><polyline points="273.1,468.8 285.3,471.3 301.5,471.9" fill="none" stroke="#000" stroke-width="1.6"/><polyline points="281.2,465.2 293.4,467.2 307.6,466.8" fill="none" stroke="#000" stroke-width="1.4"/><polyline points="285.3,457.7 296.4,458.7" fill="none" stroke="#000" stroke-width="2.5"/><polyline points="608.8,316.2 610.4,324.2 615.0,328.9 616.2,333.5" fill="none" stroke="#000" stroke-width="2.8"/><polyline points="623.1,292.6 632.3,288.5 639.2,282.7" fill="none" stroke="#000" stroke-width="2.6"/><polyline points="606.9,343.4 609.2,349.6 611.5,353.1" fill="none" stroke="#000" stroke-width="2.6"/><polyline points="615.0,342.7 619.6,347.3" fill="none" stroke="#000" stroke-width="2.2"/><polygon points="554.3,300.5 558.5,299.5 559.4,304.6 555.2,306.0" fill="#000" stroke="none" fill-opacity="1.0"/><polyline points="656.5,351.2 662.3,353.1" fill="none" stroke="#000" stroke-width="2.4"/><polyline points="665.8,355.4 675.0,360.5" fill="none" stroke="#000" stroke-width="2.4"/><polyline points="683.1,365.8 685.9,369.2" fill="none" stroke="#000" stroke-width="2.4"/><polyline points="624.2,362.3 632.3,363.5" fill="none" stroke="#000" stroke-width="2.5"/><polyline points="417.4,246.9 421.4,242.2 431.6,237.1 443.7,233.1 453.8,232.1" fill="none" stroke="#000" stroke-width="2.4"/><polyline points="424.7,257.4 425.5,263.1" fill="none" stroke="#000" stroke-width="2.6"/><polyline points="427.1,259.8 429.1,262.7" fill="none" stroke="#000" stroke-width="2.2"/><polyline points="397.1,253.3 400.2,257.8" fill="none" stroke="#000" stroke-width="2.8"/><polyline points="439.7,245.2 440.7,251.3 445.7,253.3" fill="none" stroke="#000" stroke-width="2.0"/><polyline points="445.7,279.3 448.2,285.7" fill="none" stroke="#000" stroke-width="2.4"/><polyline points="449.4,278.8 451.4,284.1" fill="none" stroke="#000" stroke-width="2.2"/><polyline points="444.9,282.7 446.5,286.5" fill="none" stroke="#000" stroke-width="2.0"/><polyline points="430.5,273.6 437.6,280.7 443.7,283.7" fill="none" stroke="#000" stroke-width="2.0"/><polyline points="469.0,268.5 475.1,265.5 482.2,268.5" fill="none" stroke="#000" stroke-width="2.0"/><polyline points="456.9,235.1 461.9,241.2 466.0,245.2" fill="none" stroke="#000" stroke-width="2.0"/><polyline points="422.4,276.6 424.5,281.7" fill="none" stroke="#000" stroke-width="2.6"/><polyline points="480.1,259.4 486.2,262.4 484.2,268.5" fill="none" stroke="#000" stroke-width="2.2"/><polygon points="205.6,239.6 208.9,238.0 212.2,238.4 213.8,239.6 210.5,240.7 206.4,241.2 205.6,239.6" fill="#000" stroke="#000" stroke-width="1"/><polygon points="215.5,247.6 218.8,245.7 223.7,244.7 227.8,244.7 224.5,246.3 220.4,247.6 217.9,247.9 215.5,247.6" fill="#000" stroke="#000" stroke-width="1"/><polygon points="224.5,251.2 228.7,250.1 233.6,250.1 228.7,250.8 224.5,251.2" fill="#000" stroke="#000" stroke-width="1"/><polygon points="238.6,254.7 240.2,252.3 241.0,253.9 239.4,255.0 238.6,254.7" fill="#000" stroke="#000" stroke-width="1"/><polygon points="245.2,259.0 247.6,258.7 249.3,263.5 248.5,264.6 246.0,261.9 245.2,259.0" fill="#000" stroke="#000" stroke-width="1"/><polygon points="579.8,262.5 582.6,261.4 585.9,260.0 588.4,257.9 589.7,256.0 588.4,256.2 586.7,258.4 584.2,260.0 580.9,261.9 579.8,262.5" fill="#000" stroke="#000" stroke-width="1"/><polygon points="289.7,238.4 293.0,238.8 291.4,239.6 289.7,238.4" fill="#000" stroke="#000" stroke-width="1"/><polygon points="240.2,243.6 242.7,244.4 241.0,244.7 240.2,243.6" fill="#000" stroke="#000" stroke-width="1"/><polygon points="261.6,265.1 263.3,265.9 262.1,266.2 261.6,265.1" fill="#000" stroke="#000" stroke-width="1"/><polygon points="458.5,249.2 459.6,247.3 462.6,247.1 462.9,248.4 460.5,249.2 458.5,249.2" fill="#000" stroke="#000" stroke-width="1"/><polygon points="465.4,247.6 467.1,245.2 468.4,246.8 466.2,247.7 465.4,247.6" fill="#000" stroke="#000" stroke-width="1"/><polygon points="429.1,251.6 430.8,250.3 431.6,251.2 429.9,251.7 429.1,251.6" fill="#000" stroke="#000" stroke-width="1"/><polygon points="534.4,277.0 537.7,276.7 536.4,277.4 534.4,277.0" fill="#000" stroke="#000" stroke-width="1"/><polygon points="505.0,273.0 506.7,270.6 509.1,270.3 510.3,272.2 508.3,274.1 505.9,275.1 504.7,274.1 505.0,273.0" fill="#000" stroke="#000" stroke-width="1"/><polygon points="529.8,273.0 532.2,270.5 536.4,270.5 538.9,270.1 535.5,270.9 532.2,271.4 530.6,273.2 529.8,273.0" fill="#000" stroke="#000" stroke-width="1"/><polygon points="573.5,226.1 580.1,226.0 583.4,226.3" fill="#000" stroke="#000" stroke-width="1"/><polygon points="626.3,272.7 627.6,273.5" fill="#000" stroke="#000" stroke-width="1"/><polygon points="242.7,260.3 244.3,261.9 243.8,263.0" fill="#000" stroke="#000" stroke-width="1"/><polygon points="244.8,262.7 246.3,264.6" fill="#000" stroke="#000" stroke-width="1"/><polyline points="256.7,270.1 260.0,268.6 263.3,267.0 266.6,267.1 268.7,269.3 268.7,270.6 265.0,270.6 262.5,269.8 259.2,270.5 256.7,270.1" fill="none" stroke="#000" stroke-width="1.3"/><polyline points="263.6,277.8 263.6,274.6 265.8,271.7 268.2,271.6 267.4,273.3 265.8,275.4 265.8,277.8 264.5,278.4 263.6,277.8" fill="none" stroke="#000" stroke-width="1.3"/><polyline points="269.1,271.4 274.0,271.4 276.5,273.0 276.5,273.8 274.0,273.8 273.7,275.9 272.4,276.2 270.7,274.9 271.1,273.0 269.1,271.4" fill="none" stroke="#000" stroke-width="1.3"/><polyline points="270.9,278.2 273.2,278.6 276.5,277.4 278.3,276.5 275.7,276.7 272.4,277.8 270.9,278.2" fill="none" stroke="#000" stroke-width="1.3"/><polyline points="276.8,275.7 279.8,275.7 282.6,275.4 282.6,274.3 279.8,274.6 277.3,275.1 276.8,275.7" fill="none" stroke="#000" stroke-width="1.3"/><polyline points="460.8,346.1 463.8,344.0 464.9,345.0 464.6,347.4 462.9,348.8 461.0,348.5 460.8,346.1" fill="none" stroke="#000" stroke-width="1.3"/><polyline points="456.8,349.9 457.3,352.4 458.8,355.6 459.6,358.3 458.8,357.7 457.2,354.8 456.5,351.6 456.8,349.9" fill="none" stroke="#000" stroke-width="1.3"/><polyline points="464.6,359.8 465.8,362.0 465.9,365.2 466.6,367.2 465.4,366.7 465.1,363.6 464.6,359.8" fill="none" stroke="#000" stroke-width="1.3"/><polyline points="556.2,215.3 567.7,216.7 579.2,219.9 594.2,224.1" fill="none" stroke="#000" stroke-width="2.2"/><polyline points="540.0,228.2 549.2,226.8" fill="none" stroke="#000" stroke-width="2.0"/><polyline points="632.3,224.1 643.9,223.6 655.4,225.0" fill="none" stroke="#000" stroke-width="2.0"/><polyline points="672.7,232.2 678.5,233.3" fill="none" stroke="#000" stroke-width="2.2"/><polyline points="177.3,246.3 186.4,252.3 193.5,258.4 199.6,263.5 205.1,267.1" fill="none" stroke="#000" stroke-width="3.0"/><polyline points="152.0,251.7 159.1,248.3 166.2,246.5" fill="none" stroke="#000" stroke-width="2.0"/></g>
<rect x="111.5" y="201.5" width="594.0" height="286.0" fill="none" stroke="#000" stroke-width="1" shape-rendering="crispEdges"/>
<text x="105.2" y="278.9" text-anchor="end" font-size="19">45N</text>
<text x="105.2" y="350.9" text-anchor="end" font-size="19">0</text>
<text x="105.2" y="421.9" text-anchor="end" font-size="19">45S</text>
<text x="186.25" y="508.6" text-anchor="middle" font-size="19">135W</text>
<text x="260.5" y="508.6" text-anchor="middle" font-size="19">90W</text>
<text x="334.75" y="508.6" text-anchor="middle" font-size="19">45W</text>
<text x="409.0" y="508.6" text-anchor="middle" font-size="19">0</text>
<text x="483.25" y="508.6" text-anchor="middle" font-size="19">45E</text>
<text x="557.5" y="508.6" text-anchor="middle" font-size="19">90E</text>
<text x="631.75" y="508.6" text-anchor="middle" font-size="19">135E</text>
<g shape-rendering="crispEdges">
<rect x="111.5" y="529.5" width="49.5" height="28" fill="#290AD8" stroke="#000" stroke-width="1"/>
<rect x="161" y="529.5" width="49.5" height="28" fill="#264DFF" stroke="#000" stroke-width="1"/>
<rect x="210.5" y="529.5" width="49.5" height="28" fill="#3FA0FF" stroke="#000" stroke-width="1"/>
<rect x="260" y="529.5" width="49.5" height="28" fill="#72D9FF" stroke="#000" stroke-width="1"/>
<rect x="309.5" y="529.5" width="49.5" height="28" fill="#AAF7FF" stroke="#000" stroke-width="1"/>
<rect x="359" y="529.5" width="49.5" height="28" fill="#E0FFFF" stroke="#000" stroke-width="1"/>
<rect x="408.5" y="529.5" width="49.5" height="28" fill="#FFFFBF" stroke="#000" stroke-width="1"/>
<rect x="458" y="529.5" width="49.5" height="28" fill="#FFE099" stroke="#000" stroke-width="1"/>
<rect x="507.5" y="529.5" width="49.5" height="28" fill="#FFAD72" stroke="#000" stroke-width="1"/>
<rect x="557" y="529.5" width="49.5" height="28" fill="#F76D5E" stroke="#000" stroke-width="1"/>
<rect x="606.5" y="529.5" width="49.5" height="28" fill="#D82632" stroke="#000" stroke-width="1"/>
<rect x="656" y="529.5" width="49.5" height="28" fill="#A50021" stroke="#000" stroke-width="1"/>
</g>
<text x="161" y="578.4" text-anchor="middle" font-size="19">-2.5</text>
<text x="210.5" y="578.4" text-anchor="middle" font-size="19">-2.0</text>
<text x="260" y="578.4" text-anchor="middle" font-size="19">-1.5</text>
<text x="309.5" y="578.4" text-anchor="middle" font-size="19">-1.0</text>
<text x="359" y="578.4" text-anchor="middle" font-size="19">-0.5</text>
<text x="408.5" y="578.4" text-anchor="middle" font-size="19">0.0</text>
<text x="458" y="578.4" text-anchor="middle" font-size="19">0.5</text>
<text x="507.5" y="578.4" text-anchor="middle" font-size="19">1.0</text>
<text x="557" y="578.4" text-anchor="middle" font-size="19">1.5</text>
<text x="606.5" y="578.4" text-anchor="middle" font-size="19">2.0</text>
<text x="656" y="578.4" text-anchor="middle" font-size="19">2.5</text>
</svg></body></html>
